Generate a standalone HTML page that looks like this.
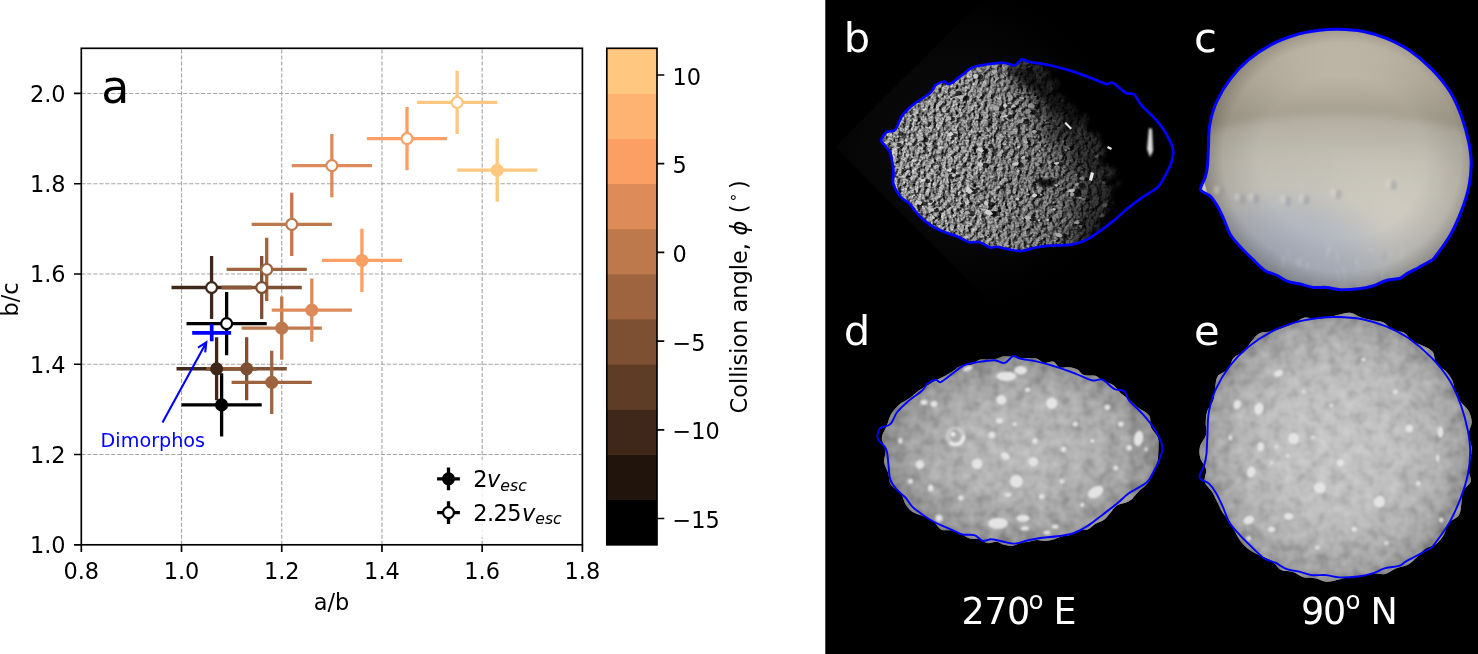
<!DOCTYPE html>
<html lang="en"><head><meta charset="utf-8"><title>Figure</title>
<style>html,body{margin:0;padding:0;background:#fff}svg{display:block}text{font-family:"DejaVu Sans","Liberation Sans",sans-serif}</style></head><body>
<svg width="1478" height="654" viewBox="0 0 1478 654">
<defs><clipPath id="cb"><path d="M881.8 138.5C882.6 136.8 884.1 133.6 886.4 132.1C888.6 130.7 892.5 132.4 895.2 129.7C897.8 126.9 899.3 119.7 902.2 115.6C905.1 111.5 908.1 108.9 912.7 105.0C917.4 101.2 926.5 96.1 930.3 92.7C934.1 89.4 933.3 86.9 935.6 85.0C937.9 83.1 942.0 81.7 944.4 81.5C946.7 81.3 946.7 85.0 949.7 84.0C952.6 82.9 958.2 77.9 962.0 75.2C965.8 72.4 967.8 69.3 972.5 67.4C977.2 65.6 984.8 64.7 990.1 63.9C995.4 63.1 1000.1 62.6 1004.2 62.9C1008.3 63.1 1011.8 65.9 1014.7 65.3C1017.6 64.7 1019.4 59.9 1021.7 59.3C1024.1 58.8 1024.1 60.8 1028.8 61.8C1033.5 62.8 1042.8 63.8 1049.9 65.3C1056.9 66.8 1064.5 69.0 1071.0 70.9C1077.4 72.9 1082.7 74.8 1088.6 76.9C1094.4 79.1 1102.0 83.0 1106.1 84.0C1110.2 84.9 1109.9 81.4 1113.2 82.9C1116.4 84.4 1122.0 90.8 1125.5 92.7C1129.0 94.7 1131.6 92.4 1134.3 94.5C1136.9 96.6 1137.8 100.9 1141.3 105.0C1144.8 109.2 1151.3 114.4 1155.4 119.1C1159.5 123.8 1163.0 128.2 1165.9 133.2C1168.8 138.2 1172.1 144.0 1172.9 149.0C1173.8 154.0 1172.9 157.8 1171.2 163.1C1169.4 168.3 1164.7 176.5 1162.4 180.6C1160.0 184.7 1160.6 184.7 1157.1 187.7C1153.6 190.6 1146.3 194.7 1141.3 198.2C1136.3 201.7 1131.9 205.0 1127.2 208.8C1122.5 212.6 1117.9 217.3 1113.2 221.1C1108.5 224.9 1103.8 228.4 1099.1 231.6C1094.4 234.9 1089.7 238.3 1085.0 240.4C1080.3 242.6 1076.8 243.8 1071.0 244.6C1065.1 245.5 1055.7 245.2 1049.9 245.7C1044.0 246.2 1040.5 246.6 1035.8 247.5C1031.1 248.3 1026.4 250.7 1021.7 251.0C1017.1 251.3 1011.8 249.9 1007.7 249.2C1003.6 248.5 1000.1 247.0 997.1 246.8C994.2 246.5 993.0 248.2 990.1 247.5C987.2 246.7 983.1 243.1 979.5 242.2C976.0 241.3 972.5 243.1 969.0 242.2C965.5 241.3 962.3 238.5 958.5 236.9C954.6 235.3 950.0 234.2 946.1 232.7C942.3 231.2 939.1 230.0 935.6 228.1C932.1 226.2 928.3 223.7 925.0 221.1C921.8 218.4 918.9 215.2 916.3 212.3C913.6 209.4 911.9 206.1 909.2 203.5C906.6 200.9 903.1 199.7 900.4 196.5C897.8 193.2 894.6 188.6 893.4 184.2C892.2 179.8 894.0 175.4 893.4 170.1C892.8 164.8 891.8 157.2 889.9 152.5C888.0 147.8 883.1 144.3 881.8 142.0C880.5 139.6 881.0 140.1 881.8 138.5Z"/></clipPath>
<clipPath id="cc"><path d="M1208.4 147.6C1208.8 140.7 1208.4 132.3 1209.8 124.6C1211.2 117.0 1213.2 109.3 1216.7 101.7C1220.1 94.1 1225.1 85.8 1230.4 78.8C1235.8 71.7 1241.9 65.2 1248.8 59.5C1255.7 53.8 1264.1 48.4 1271.7 44.4C1279.3 40.3 1287.0 37.5 1294.6 35.2C1302.3 32.9 1310.3 31.6 1317.6 30.6C1324.8 29.6 1330.5 29.1 1338.2 29.3C1345.8 29.4 1355.4 30.0 1363.4 31.5C1371.4 33.1 1378.7 35.3 1386.3 38.4C1394.0 41.6 1401.6 45.2 1409.3 50.3C1416.9 55.5 1425.3 62.6 1432.2 69.6C1439.1 76.6 1445.6 84.5 1450.5 92.5C1455.5 100.6 1458.9 109.3 1462.0 117.7C1465.0 126.2 1467.3 135.3 1468.9 143.0C1470.4 150.6 1471.2 156.3 1471.2 163.6C1471.2 170.9 1470.4 178.9 1468.9 186.5C1467.3 194.2 1465.0 201.4 1462.0 209.4C1458.9 217.5 1455.1 226.6 1450.5 234.7C1445.9 242.7 1437.9 253.2 1434.5 257.6C1431.0 262.0 1432.6 259.6 1429.9 261.3C1427.2 262.9 1422.2 265.6 1418.4 267.7C1414.6 269.7 1410.0 271.9 1407.0 273.6C1403.9 275.4 1403.5 277.1 1400.1 278.2C1396.6 279.4 1390.9 279.2 1386.3 280.5C1381.7 281.8 1377.2 284.6 1372.6 286.0C1368.0 287.4 1364.2 288.2 1358.8 288.8C1353.5 289.4 1345.8 289.9 1340.5 289.7C1335.1 289.5 1331.3 287.8 1326.7 287.4C1322.1 287.0 1317.6 288.0 1313.0 287.4C1308.4 286.8 1303.4 284.7 1299.2 283.7C1295.0 282.7 1291.6 282.9 1287.7 281.4C1283.9 280.0 1280.1 276.9 1276.3 275.0C1272.5 273.2 1268.6 273.0 1264.8 270.4C1261.0 267.9 1257.2 263.6 1253.4 259.9C1249.5 256.2 1245.7 252.6 1241.9 248.4C1238.1 244.2 1233.5 239.6 1230.4 234.7C1227.4 229.7 1225.9 223.6 1223.6 218.6C1221.3 213.7 1219.0 208.7 1216.7 204.9C1214.4 201.0 1212.5 198.2 1209.8 195.7C1207.1 193.2 1201.4 192.8 1200.6 189.7C1199.9 186.7 1204.1 181.3 1205.2 177.4C1206.4 173.4 1207.0 170.9 1207.5 165.9C1208.0 160.9 1208.0 154.4 1208.4 147.6Z"/></clipPath>
<filter id="rock" x="0" y="0" width="100%" height="100%" color-interpolation-filters="sRGB">
<feTurbulence type="fractalNoise" baseFrequency="0.2" numOctaves="4" seed="7" result="n"/>
<feColorMatrix in="n" type="matrix" values="0 0 0 0 0  0 0 0 0 0  0 0 0 0 0  0 1 0 0 0" result="h"/>
<feDiffuseLighting in="h" surfaceScale="5" diffuseConstant="0.86" lighting-color="#ffffff" result="lit"><feDistantLight azimuth="200" elevation="48"/></feDiffuseLighting>
<feTurbulence type="fractalNoise" baseFrequency="0.55" numOctaves="2" seed="21" result="n1"/>
<feColorMatrix in="n1" type="matrix" values="0 1.5 0 0 -0.25  0 1.5 0 0 -0.25  0 1.5 0 0 -0.25  0 0 0 0 1" result="g1"/>
<feComposite in="lit" in2="g1" operator="arithmetic" k1="0" k2="0.74" k3="0.42" k4="-0.08"/>
</filter>
<filter id="rag2" x="-10%" y="-10%" width="120%" height="120%">
<feTurbulence type="fractalNoise" baseFrequency="0.12" numOctaves="3" seed="14" result="t"/>
<feDisplacementMap in="SourceGraphic" in2="t" scale="70" xChannelSelector="G" yChannelSelector="R" result="d"/>
<feGaussianBlur in="d" stdDeviation="6"/>
</filter>
<filter id="rag" x="-10%" y="-10%" width="120%" height="120%">
<feTurbulence type="fractalNoise" baseFrequency="0.09" numOctaves="3" seed="4" result="t"/>
<feDisplacementMap in="SourceGraphic" in2="t" scale="26" xChannelSelector="R" yChannelSelector="G" result="d"/>
<feGaussianBlur in="d" stdDeviation="2.2"/>
</filter>
<filter id="bl8" x="-20%" y="-20%" width="140%" height="140%"><feGaussianBlur stdDeviation="8"/></filter>
<filter id="bl4" x="-20%" y="-20%" width="140%" height="140%"><feGaussianBlur stdDeviation="4"/></filter>
<filter id="bl2" x="-20%" y="-20%" width="140%" height="140%"><feGaussianBlur stdDeviation="1.6"/></filter>
<filter id="bl05" x="-5%" y="-5%" width="110%" height="110%"><feGaussianBlur stdDeviation="0.45"/></filter>
<filter id="bl1" x="-30%" y="-30%" width="160%" height="160%"><feGaussianBlur stdDeviation="0.8"/></filter>
<linearGradient id="bsh" x1="0" y1="0" x2="1" y2="0"><stop offset="0" stop-color="#fff"/><stop offset="0.3" stop-color="#ececec"/><stop offset="0.5" stop-color="#c4c4c4"/><stop offset="0.7" stop-color="#8c8c8c"/><stop offset="1" stop-color="#505050"/></linearGradient>
<radialGradient id="bglow" cx="955" cy="150" r="160" gradientUnits="userSpaceOnUse"><stop offset="0" stop-color="#0b0b0b"/><stop offset="0.55" stop-color="#070707"/><stop offset="1" stop-color="#000"/></radialGradient>
<radialGradient id="climb" cx="0.5" cy="0.5" r="0.5"><stop offset="0" stop-color="#000" stop-opacity="0"/><stop offset="0.6" stop-color="#000" stop-opacity="0.02"/><stop offset="0.85" stop-color="#1a140a" stop-opacity="0.12"/><stop offset="1" stop-color="#1a140a" stop-opacity="0.36"/></radialGradient>
<linearGradient id="cbase" x1="0" y1="20" x2="0" y2="300" gradientUnits="userSpaceOnUse"><stop offset="0" stop-color="#b3aea1"/><stop offset="0.36" stop-color="#b6b1a4"/><stop offset="0.5" stop-color="#c3c0b5"/><stop offset="0.65" stop-color="#c8c6be"/><stop offset="0.8" stop-color="#c5c5c4"/><stop offset="0.92" stop-color="#c4c8cf"/><stop offset="1" stop-color="#cdd1d9"/></linearGradient>
<radialGradient id="ctop" cx="1338" cy="647" r="620" gradientUnits="userSpaceOnUse"><stop offset="0.86" stop-color="#a8a192"/><stop offset="0.885" stop-color="#b1aa9a"/><stop offset="0.92" stop-color="#c0b8a8"/><stop offset="0.96" stop-color="#cdc5b5"/><stop offset="1" stop-color="#d6cebf"/></radialGradient>
<radialGradient id="cblue" cx="0.5" cy="0.5" r="0.5"><stop offset="0" stop-color="#aab2c6" stop-opacity="0.75"/><stop offset="0.6" stop-color="#aab2c6" stop-opacity="0.45"/><stop offset="1" stop-color="#aab2c6" stop-opacity="0"/></radialGradient>
<radialGradient id="cwarm" cx="0.5" cy="0.5" r="0.5"><stop offset="0" stop-color="#e2dccb" stop-opacity="0.4"/><stop offset="1" stop-color="#e2dbc6" stop-opacity="0"/></radialGradient>
<radialGradient id="dsh" cx="0.5" cy="0.5" r="0.5"><stop offset="0" stop-color="#b7b7b7"/><stop offset="0.45" stop-color="#b1b1b1"/><stop offset="0.75" stop-color="#a3a3a3"/><stop offset="0.92" stop-color="#949494"/><stop offset="1" stop-color="#818181"/></radialGradient>
<filter id="lump" x="-5%" y="-5%" width="110%" height="110%" color-interpolation-filters="sRGB">
<feTurbulence type="fractalNoise" baseFrequency="0.085" numOctaves="2" seed="11" result="n"/>
<feColorMatrix in="n" type="matrix" values="0 0.6 0 0 0.21  0 0.6 0 0 0.21  0 0.6 0 0 0.21  0 0 0 0 1" result="g"/>
<feComposite in="g" in2="SourceGraphic" operator="in" result="c"/>
<feBlend in="c" in2="SourceGraphic" mode="soft-light"/>
</filter>
<radialGradient id="esh" cx="0.5" cy="0.5" r="0.5"><stop offset="0" stop-color="#c3c3c3"/><stop offset="0.45" stop-color="#bebebe"/><stop offset="0.75" stop-color="#b0b0b0"/><stop offset="0.92" stop-color="#9f9f9f"/><stop offset="1" stop-color="#8a8a8a"/></radialGradient></defs>
<rect x="0" y="0" width="1478" height="654" fill="#fff"/>
<g id="plot">
<path d="M181.52 544.80V48.30M281.74 544.80V48.30M381.96 544.80V48.30M482.18 544.80V48.30M81.30 454.53H582.40M81.30 364.25H582.40M81.30 273.98H582.40M81.30 183.71H582.40M81.30 93.44H582.40" fill="none" stroke="#a6a6a6" stroke-width="1.13" stroke-dasharray="4.18 1.81"/>
<path d="M181.52 404.88H261.70M221.61 436.47V373.28" stroke="rgb(0,0,0)" stroke-width="3.30" fill="none"/>
<path d="M176.51 368.77H256.69M216.60 400.36V337.17" stroke="rgb(63,40,25)" stroke-width="3.30" fill="none"/>
<path d="M206.57 368.77H286.75M246.66 400.36V337.17" stroke="rgb(126,80,51)" stroke-width="3.30" fill="none"/>
<path d="M231.63 382.31H311.81M271.72 413.90V350.71" stroke="rgb(158,100,63)" stroke-width="3.30" fill="none"/>
<path d="M241.65 328.15H321.83M281.74 359.74V296.55" stroke="rgb(189,120,76)" stroke-width="3.30" fill="none"/>
<path d="M271.72 310.09H351.89M311.81 341.69V278.50" stroke="rgb(221,139,89)" stroke-width="3.30" fill="none"/>
<path d="M321.83 260.44H402.00M361.92 292.04V228.85" stroke="rgb(252,159,101)" stroke-width="3.30" fill="none"/>
<path d="M457.12 170.17H537.30M497.21 201.76V138.57" stroke="rgb(255,199,127)" stroke-width="3.30" fill="none"/>
<path d="M186.53 323.63H266.71M226.62 355.23V292.04" stroke="rgb(0,0,0)" stroke-width="3.30" fill="none"/>
<path d="M171.50 287.52H251.67M211.59 319.12V255.93" stroke="rgb(63,40,25)" stroke-width="3.30" fill="none"/>
<path d="M221.61 287.52H301.78M261.70 319.12V255.93" stroke="rgb(126,80,51)" stroke-width="3.30" fill="none"/>
<path d="M226.62 269.47H306.79M266.71 301.06V237.87" stroke="rgb(158,100,63)" stroke-width="3.30" fill="none"/>
<path d="M251.67 224.33H331.85M291.76 255.93V192.74" stroke="rgb(189,120,76)" stroke-width="3.30" fill="none"/>
<path d="M291.76 165.65H371.94M331.85 197.25V134.06" stroke="rgb(221,139,89)" stroke-width="3.30" fill="none"/>
<path d="M366.93 138.57H447.10M407.01 170.17V106.98" stroke="rgb(252,159,101)" stroke-width="3.30" fill="none"/>
<path d="M417.04 102.46H497.21M457.12 134.06V70.87" stroke="rgb(255,199,127)" stroke-width="3.30" fill="none"/>
<path d="M206.57 368.77H256.68" stroke="rgb(140,89,56)" stroke-width="3.30"/>
<path d="M221.61 287.52H251.67" stroke="rgb(140,89,56)" stroke-width="3.30"/>
<path d="M192.2 332.8H231.1M211.7 324V341.2" stroke="#0000ff" stroke-width="3.7" fill="none"/>
<circle cx="221.61" cy="404.88" r="5.45" fill="rgb(0,0,0)" stroke="rgb(0,0,0)" stroke-width="2.2"/>
<circle cx="216.60" cy="368.77" r="5.45" fill="rgb(63,40,25)" stroke="rgb(63,40,25)" stroke-width="2.2"/>
<circle cx="246.66" cy="368.77" r="5.45" fill="rgb(126,80,51)" stroke="rgb(126,80,51)" stroke-width="2.2"/>
<circle cx="271.72" cy="382.31" r="5.45" fill="rgb(158,100,63)" stroke="rgb(158,100,63)" stroke-width="2.2"/>
<circle cx="281.74" cy="328.15" r="5.45" fill="rgb(189,120,76)" stroke="rgb(189,120,76)" stroke-width="2.2"/>
<circle cx="311.81" cy="310.09" r="5.45" fill="rgb(221,139,89)" stroke="rgb(221,139,89)" stroke-width="2.2"/>
<circle cx="361.92" cy="260.44" r="5.45" fill="rgb(252,159,101)" stroke="rgb(252,159,101)" stroke-width="2.2"/>
<circle cx="497.21" cy="170.17" r="5.45" fill="rgb(255,199,127)" stroke="rgb(255,199,127)" stroke-width="2.2"/>
<circle cx="226.62" cy="323.63" r="5.45" fill="#fff" stroke="rgb(0,0,0)" stroke-width="2.2"/>
<circle cx="211.59" cy="287.52" r="5.45" fill="#fff" stroke="rgb(63,40,25)" stroke-width="2.2"/>
<circle cx="261.70" cy="287.52" r="5.45" fill="#fff" stroke="rgb(126,80,51)" stroke-width="2.2"/>
<circle cx="266.71" cy="269.47" r="5.45" fill="#fff" stroke="rgb(158,100,63)" stroke-width="2.2"/>
<circle cx="291.76" cy="224.33" r="5.45" fill="#fff" stroke="rgb(189,120,76)" stroke-width="2.2"/>
<circle cx="331.85" cy="165.65" r="5.45" fill="#fff" stroke="rgb(221,139,89)" stroke-width="2.2"/>
<circle cx="407.01" cy="138.57" r="5.45" fill="#fff" stroke="rgb(252,159,101)" stroke-width="2.2"/>
<circle cx="457.12" cy="102.46" r="5.45" fill="#fff" stroke="rgb(255,199,127)" stroke-width="2.2"/>
<path d="M162.5 422.4L206.3 342.4M198.0 347.6L206.3 342.4L205.2 352.4" stroke="#0000ff" stroke-width="2.1" fill="none" stroke-linejoin="miter"/>
<text x="100.6" y="446.9" font-size="19.2" fill="#0000ff">Dimorphos</text>
<rect x="428" y="459.6" width="147" height="78" rx="4" fill="#fff" fill-opacity="0.8"/>
<path d="M437.1 478.8H459.9M448.5 467.4V490.2" stroke="#000" stroke-width="3.30"/>
<circle cx="448.5" cy="478.8" r="5.45" fill="#000" stroke="#000" stroke-width="2.2"/>
<path d="M437.1 512.6H459.9M448.5 501.2V524.0" stroke="#000" stroke-width="3.30"/>
<circle cx="448.5" cy="512.6" r="5.45" fill="#fff" stroke="#000" stroke-width="2.2"/>
<text x="473.2" y="486.9" font-size="22.45">2<tspan font-style="italic" dx="-0.4">v</tspan><tspan font-style="italic" font-size="15.7" dy="3.6">esc</tspan></text>
<text x="473.2" y="520.6" font-size="22.45"><tspan letter-spacing="-0.5">2.25</tspan><tspan font-style="italic" dx="0.8">v</tspan><tspan font-style="italic" font-size="15.7" dy="3.6">esc</tspan></text>
<rect x="81.30" y="48.30" width="501.10" height="496.50" fill="none" stroke="#000" stroke-width="1.67"/>
<path d="M81.30 544.80v7.3M181.52 544.80v7.3M281.74 544.80v7.3M381.96 544.80v7.3M482.18 544.80v7.3M582.40 544.80v7.3M81.30 544.80h-7.3M81.30 454.53h-7.3M81.30 364.25h-7.3M81.30 273.98h-7.3M81.30 183.71h-7.3M81.30 93.44h-7.3" stroke="#000" stroke-width="1.67" fill="none"/>
<text x="81.30" y="578.7" font-size="22.45" text-anchor="middle">0.8</text>
<text x="181.52" y="578.7" font-size="22.45" text-anchor="middle">1.0</text>
<text x="281.74" y="578.7" font-size="22.45" text-anchor="middle">1.2</text>
<text x="381.96" y="578.7" font-size="22.45" text-anchor="middle">1.4</text>
<text x="482.18" y="578.7" font-size="22.45" text-anchor="middle">1.6</text>
<text x="582.40" y="578.7" font-size="22.45" text-anchor="middle">1.8</text>
<text x="65.6" y="553.20" font-size="22.45" text-anchor="end">1.0</text>
<text x="65.6" y="462.93" font-size="22.45" text-anchor="end">1.2</text>
<text x="65.6" y="372.65" font-size="22.45" text-anchor="end">1.4</text>
<text x="65.6" y="282.38" font-size="22.45" text-anchor="end">1.6</text>
<text x="65.6" y="192.11" font-size="22.45" text-anchor="end">1.8</text>
<text x="65.6" y="101.84" font-size="22.45" text-anchor="end">2.0</text>
<text x="331.6" y="609.8" font-size="22.45" text-anchor="middle">a/b</text>
<text transform="translate(18.1 299.5) rotate(-90)" font-size="22.45" text-anchor="middle">b/c</text>
<text x="101.2" y="102.6" font-size="45.83">a</text>
<rect x="606.80" y="499.36" width="50.20" height="45.74" fill="rgb(0,0,0)"/>
<rect x="606.80" y="454.23" width="50.20" height="45.74" fill="rgb(32,20,13)"/>
<rect x="606.80" y="409.09" width="50.20" height="45.74" fill="rgb(63,40,25)"/>
<rect x="606.80" y="363.95" width="50.20" height="45.74" fill="rgb(95,60,38)"/>
<rect x="606.80" y="318.82" width="50.20" height="45.74" fill="rgb(126,80,51)"/>
<rect x="606.80" y="273.68" width="50.20" height="45.74" fill="rgb(158,100,63)"/>
<rect x="606.80" y="228.55" width="50.20" height="45.74" fill="rgb(189,120,76)"/>
<rect x="606.80" y="183.41" width="50.20" height="45.74" fill="rgb(221,139,89)"/>
<rect x="606.80" y="138.27" width="50.20" height="45.74" fill="rgb(252,159,101)"/>
<rect x="606.80" y="93.14" width="50.20" height="45.74" fill="rgb(255,179,114)"/>
<rect x="606.80" y="48.00" width="50.20" height="45.74" fill="rgb(255,199,127)"/>
<rect x="606.80" y="48.30" width="50.20" height="496.50" fill="none" stroke="#000" stroke-width="1.67"/>
<path d="M657.00 75.00h7.3M657.00 163.70h7.3M657.00 252.40h7.3M657.00 341.10h7.3M657.00 429.80h7.3M657.00 518.50h7.3" stroke="#000" stroke-width="1.67"/>
<text x="672.5" y="84.60" font-size="22.45">10</text>
<text x="672.5" y="173.30" font-size="22.45">5</text>
<text x="672.5" y="262.00" font-size="22.45">0</text>
<text x="672.5" y="350.70" font-size="22.45">−5</text>
<text x="672.5" y="439.40" font-size="22.45">−10</text>
<text x="672.5" y="528.10" font-size="22.45">−15</text>
<text transform="translate(746.5 413.5) rotate(-90)" font-size="22.45" xml:space="preserve">Collision angle, <tspan font-style="italic" dx="0.5">ϕ</tspan><tspan dx="0.15"> (</tspan><tspan font-size="15.7" dy="-8.3" dx="2.4">∘</tspan><tspan dy="8.3" dx="3.4">)</tspan></text>
</g>
<g id="panel">
<rect x="825.3" y="0" width="652.7" height="654" fill="#000"/>
<g id="body-b">
<path d="M835 147L1010 -28L1185 147L1010 322Z" fill="url(#bglow)"/>
<g clip-path="url(#cb)">
<rect x="870" y="50" width="320" height="210" fill="#fff" filter="url(#rock)"/>
<rect x="870" y="50" width="320" height="210" fill="url(#bsh)" style="mix-blend-mode:multiply"/>
<g filter="url(#bl05)"><ellipse cx="1031.6" cy="67.2" rx="2.0" ry="1.4" fill="#000" fill-opacity="0.7"/><ellipse cx="936.4" cy="173.1" rx="1.3" ry="1.0" fill="#000" fill-opacity="0.7"/><ellipse cx="1052.5" cy="163.5" rx="2.4" ry="1.8" fill="#000" fill-opacity="0.7"/><ellipse cx="973.2" cy="147.8" rx="2.0" ry="1.4" fill="#000" fill-opacity="0.7"/><ellipse cx="1040.8" cy="220.8" rx="1.3" ry="1.0" fill="#000" fill-opacity="0.7"/><ellipse cx="921.9" cy="89.2" rx="3.5" ry="2.6" fill="#000" fill-opacity="0.7"/><ellipse cx="1065.0" cy="141.7" rx="1.3" ry="1.0" fill="#000" fill-opacity="0.7"/><ellipse cx="913.4" cy="144.4" rx="2.4" ry="1.8" fill="#000" fill-opacity="0.7"/><ellipse cx="1060.5" cy="164.2" rx="2.9" ry="2.1" fill="#000" fill-opacity="0.7"/><ellipse cx="1072.5" cy="246.6" rx="2.9" ry="2.1" fill="#000" fill-opacity="0.7"/><ellipse cx="977.5" cy="188.8" rx="2.0" ry="1.4" fill="#000" fill-opacity="0.7"/><ellipse cx="1080.7" cy="75.8" rx="1.7" ry="1.2" fill="#000" fill-opacity="0.7"/><ellipse cx="985.1" cy="150.8" rx="3.5" ry="2.6" fill="#000" fill-opacity="0.7"/><ellipse cx="944.5" cy="236.2" rx="2.4" ry="1.8" fill="#000" fill-opacity="0.7"/><ellipse cx="1089.8" cy="93.3" rx="1.3" ry="1.0" fill="#000" fill-opacity="0.7"/><ellipse cx="1020.1" cy="164.9" rx="3.5" ry="2.6" fill="#000" fill-opacity="0.7"/><ellipse cx="914.2" cy="229.8" rx="1.7" ry="1.2" fill="#000" fill-opacity="0.7"/><ellipse cx="989.7" cy="237.0" rx="1.3" ry="1.0" fill="#000" fill-opacity="0.7"/><ellipse cx="1076.5" cy="195.0" rx="2.9" ry="2.1" fill="#000" fill-opacity="0.7"/><ellipse cx="951.1" cy="176.7" rx="3.5" ry="2.6" fill="#000" fill-opacity="0.7"/><ellipse cx="1033.2" cy="112.2" rx="3.5" ry="2.6" fill="#000" fill-opacity="0.7"/><ellipse cx="956.2" cy="231.4" rx="1.3" ry="1.0" fill="#000" fill-opacity="0.7"/><ellipse cx="1088.1" cy="67.6" rx="3.5" ry="2.6" fill="#000" fill-opacity="0.7"/><ellipse cx="1071.4" cy="149.1" rx="2.0" ry="1.4" fill="#000" fill-opacity="0.7"/><ellipse cx="1099.0" cy="84.2" rx="2.0" ry="1.4" fill="#000" fill-opacity="0.7"/><ellipse cx="898.9" cy="144.8" rx="2.9" ry="2.1" fill="#000" fill-opacity="0.7"/><ellipse cx="1001.8" cy="187.9" rx="2.0" ry="1.4" fill="#000" fill-opacity="0.7"/><ellipse cx="936.2" cy="210.5" rx="2.9" ry="2.1" fill="#000" fill-opacity="0.7"/><ellipse cx="908.3" cy="241.4" rx="1.7" ry="1.2" fill="#000" fill-opacity="0.7"/><ellipse cx="1001.0" cy="108.8" rx="3.5" ry="2.6" fill="#000" fill-opacity="0.7"/><ellipse cx="992.5" cy="213.6" rx="3.5" ry="2.6" fill="#000" fill-opacity="0.7"/><ellipse cx="991.1" cy="204.3" rx="3.5" ry="2.6" fill="#000" fill-opacity="0.7"/><ellipse cx="1042.9" cy="195.2" rx="1.3" ry="1.0" fill="#000" fill-opacity="0.7"/><ellipse cx="889.6" cy="128.8" rx="2.4" ry="1.8" fill="#000" fill-opacity="0.7"/><ellipse cx="1050.2" cy="220.5" rx="1.7" ry="1.2" fill="#000" fill-opacity="0.7"/><ellipse cx="961.8" cy="205.8" rx="2.4" ry="1.8" fill="#000" fill-opacity="0.7"/><ellipse cx="1057.0" cy="241.0" rx="1.7" ry="1.2" fill="#000" fill-opacity="0.7"/><ellipse cx="1062.7" cy="93.3" rx="2.0" ry="1.4" fill="#000" fill-opacity="0.7"/><ellipse cx="1078.1" cy="175.2" rx="1.3" ry="1.0" fill="#000" fill-opacity="0.7"/><ellipse cx="1032.8" cy="218.8" rx="3.5" ry="2.6" fill="#000" fill-opacity="0.7"/><ellipse cx="1075.2" cy="79.0" rx="2.4" ry="1.8" fill="#000" fill-opacity="0.7"/><ellipse cx="1012.3" cy="159.6" rx="1.7" ry="1.2" fill="#000" fill-opacity="0.7"/><ellipse cx="1038.3" cy="132.2" rx="2.9" ry="2.1" fill="#000" fill-opacity="0.7"/><ellipse cx="930.8" cy="201.4" rx="2.0" ry="1.4" fill="#000" fill-opacity="0.7"/><ellipse cx="1011.8" cy="193.6" rx="1.7" ry="1.2" fill="#000" fill-opacity="0.7"/><ellipse cx="980.0" cy="76.9" rx="3.5" ry="2.6" fill="#000" fill-opacity="0.7"/><ellipse cx="990.3" cy="146.0" rx="2.9" ry="2.1" fill="#000" fill-opacity="0.7"/><ellipse cx="925.0" cy="139.8" rx="3.5" ry="2.6" fill="#000" fill-opacity="0.7"/><ellipse cx="985.5" cy="165.3" rx="3.5" ry="2.6" fill="#000" fill-opacity="0.7"/><ellipse cx="1100.4" cy="156.7" rx="2.4" ry="1.8" fill="#000" fill-opacity="0.7"/><ellipse cx="1016.9" cy="205.9" rx="1.7" ry="1.2" fill="#000" fill-opacity="0.7"/><ellipse cx="961.9" cy="193.0" rx="2.0" ry="1.4" fill="#000" fill-opacity="0.7"/><ellipse cx="980.7" cy="97.8" rx="2.0" ry="1.4" fill="#000" fill-opacity="0.7"/><ellipse cx="1046.5" cy="120.8" rx="1.3" ry="1.0" fill="#000" fill-opacity="0.7"/><ellipse cx="1109.5" cy="108.6" rx="2.9" ry="2.1" fill="#000" fill-opacity="0.7"/><ellipse cx="952.5" cy="118.9" rx="2.9" ry="2.1" fill="#000" fill-opacity="0.7"/><ellipse cx="1017.0" cy="106.6" rx="2.4" ry="1.8" fill="#000" fill-opacity="0.7"/><ellipse cx="1084.0" cy="227.0" rx="2.4" ry="1.8" fill="#000" fill-opacity="0.7"/><ellipse cx="1080.5" cy="223.0" rx="2.9" ry="2.1" fill="#000" fill-opacity="0.7"/><ellipse cx="1109.9" cy="205.9" rx="3.5" ry="2.6" fill="#000" fill-opacity="0.7"/><ellipse cx="926.5" cy="77.5" rx="2.4" ry="1.8" fill="#000" fill-opacity="0.7"/><ellipse cx="905.5" cy="240.5" rx="2.9" ry="2.1" fill="#000" fill-opacity="0.7"/><ellipse cx="893.2" cy="218.7" rx="2.4" ry="1.8" fill="#000" fill-opacity="0.7"/><ellipse cx="937.0" cy="98.3" rx="2.0" ry="1.4" fill="#000" fill-opacity="0.7"/><ellipse cx="1093.0" cy="124.1" rx="2.4" ry="1.8" fill="#000" fill-opacity="0.7"/><ellipse cx="1067.8" cy="150.4" rx="1.3" ry="1.0" fill="#000" fill-opacity="0.7"/><ellipse cx="970.6" cy="203.4" rx="2.0" ry="1.4" fill="#000" fill-opacity="0.7"/><ellipse cx="1092.9" cy="119.5" rx="2.4" ry="1.8" fill="#000" fill-opacity="0.7"/><ellipse cx="1020.5" cy="199.3" rx="2.4" ry="1.8" fill="#000" fill-opacity="0.7"/><ellipse cx="1010.2" cy="246.4" rx="2.0" ry="1.4" fill="#000" fill-opacity="0.7"/><ellipse cx="1066.0" cy="101.4" rx="2.9" ry="2.1" fill="#000" fill-opacity="0.7"/><ellipse cx="912.0" cy="225.3" rx="1.7" ry="1.2" fill="#000" fill-opacity="0.7"/><ellipse cx="1020.8" cy="147.4" rx="1.7" ry="1.2" fill="#000" fill-opacity="0.7"/><ellipse cx="1047.1" cy="145.7" rx="1.3" ry="1.0" fill="#000" fill-opacity="0.7"/><ellipse cx="1080.8" cy="185.2" rx="2.9" ry="2.1" fill="#000" fill-opacity="0.7"/><ellipse cx="1041.3" cy="151.5" rx="1.3" ry="1.0" fill="#000" fill-opacity="0.7"/><ellipse cx="1083.0" cy="198.1" rx="2.0" ry="1.4" fill="#000" fill-opacity="0.7"/><ellipse cx="1079.1" cy="246.0" rx="2.9" ry="2.1" fill="#000" fill-opacity="0.7"/><ellipse cx="1014.7" cy="137.8" rx="1.7" ry="1.2" fill="#000" fill-opacity="0.7"/><ellipse cx="921.8" cy="204.2" rx="1.3" ry="1.0" fill="#000" fill-opacity="0.7"/><ellipse cx="1005.8" cy="120.4" rx="1.7" ry="1.2" fill="#000" fill-opacity="0.7"/><ellipse cx="1008.7" cy="106.0" rx="2.9" ry="2.1" fill="#000" fill-opacity="0.7"/><ellipse cx="952.8" cy="138.7" rx="2.0" ry="1.4" fill="#000" fill-opacity="0.7"/><ellipse cx="936.7" cy="208.8" rx="1.3" ry="1.0" fill="#000" fill-opacity="0.7"/><ellipse cx="1058.3" cy="185.7" rx="1.7" ry="1.2" fill="#000" fill-opacity="0.7"/><ellipse cx="922.3" cy="75.5" rx="2.4" ry="1.8" fill="#000" fill-opacity="0.7"/><ellipse cx="1026.7" cy="158.0" rx="2.4" ry="1.8" fill="#000" fill-opacity="0.7"/><ellipse cx="1110.8" cy="78.8" rx="3.5" ry="2.6" fill="#000" fill-opacity="0.7"/><ellipse cx="904.6" cy="80.7" rx="3.5" ry="2.6" fill="#000" fill-opacity="0.7"/><ellipse cx="915.8" cy="195.6" rx="1.3" ry="1.0" fill="#000" fill-opacity="0.7"/><ellipse cx="891.4" cy="120.5" rx="1.7" ry="1.2" fill="#000" fill-opacity="0.7"/><ellipse cx="1086.1" cy="179.0" rx="2.9" ry="2.1" fill="#000" fill-opacity="0.7"/><ellipse cx="1056.5" cy="209.8" rx="1.7" ry="1.2" fill="#000" fill-opacity="0.7"/><ellipse cx="1106.3" cy="216.4" rx="2.9" ry="2.1" fill="#000" fill-opacity="0.7"/><ellipse cx="920.4" cy="144.7" rx="1.7" ry="1.2" fill="#000" fill-opacity="0.7"/><ellipse cx="1065.8" cy="88.4" rx="2.0" ry="1.4" fill="#000" fill-opacity="0.7"/><ellipse cx="912.7" cy="116.7" rx="2.0" ry="1.4" fill="#000" fill-opacity="0.7"/><ellipse cx="983.8" cy="178.0" rx="1.7" ry="1.2" fill="#000" fill-opacity="0.7"/><ellipse cx="1030.7" cy="247.0" rx="2.0" ry="1.4" fill="#000" fill-opacity="0.7"/><ellipse cx="1076.6" cy="191.7" rx="3.5" ry="2.6" fill="#000" fill-opacity="0.7"/><ellipse cx="1110.3" cy="164.6" rx="2.0" ry="1.4" fill="#000" fill-opacity="0.7"/><ellipse cx="966.1" cy="98.1" rx="3.5" ry="2.6" fill="#000" fill-opacity="0.7"/><ellipse cx="957.3" cy="176.0" rx="2.4" ry="1.8" fill="#000" fill-opacity="0.7"/><ellipse cx="971.5" cy="213.6" rx="3.5" ry="2.6" fill="#000" fill-opacity="0.7"/><ellipse cx="1040.5" cy="240.9" rx="2.0" ry="1.4" fill="#000" fill-opacity="0.7"/><ellipse cx="947.2" cy="111.6" rx="2.4" ry="1.8" fill="#000" fill-opacity="0.7"/><ellipse cx="1039.2" cy="196.2" rx="2.9" ry="2.1" fill="#000" fill-opacity="0.7"/><ellipse cx="893.6" cy="166.7" rx="2.0" ry="1.4" fill="#000" fill-opacity="0.7"/><ellipse cx="1107.1" cy="183.4" rx="2.4" ry="1.8" fill="#000" fill-opacity="0.7"/><ellipse cx="958.2" cy="93.4" rx="3.5" ry="2.6" fill="#000" fill-opacity="0.7"/><ellipse cx="1020.4" cy="171.6" rx="1.7" ry="1.2" fill="#000" fill-opacity="0.7"/><ellipse cx="1028.9" cy="68.7" rx="3.5" ry="2.6" fill="#000" fill-opacity="0.7"/><ellipse cx="1026.3" cy="121.7" rx="3.5" ry="2.6" fill="#000" fill-opacity="0.7"/><ellipse cx="954.2" cy="135.0" rx="2.9" ry="2.1" fill="#000" fill-opacity="0.7"/><ellipse cx="894.1" cy="240.5" rx="2.9" ry="2.1" fill="#000" fill-opacity="0.7"/><ellipse cx="1086.9" cy="199.4" rx="2.4" ry="1.8" fill="#000" fill-opacity="0.7"/><ellipse cx="916.6" cy="80.7" rx="2.0" ry="1.4" fill="#000" fill-opacity="0.7"/><ellipse cx="920.8" cy="230.4" rx="1.7" ry="1.2" fill="#000" fill-opacity="0.7"/><ellipse cx="971.2" cy="189.3" rx="2.4" ry="1.8" fill="#000" fill-opacity="0.7"/><ellipse cx="927.3" cy="181.0" rx="2.9" ry="2.1" fill="#000" fill-opacity="0.7"/><ellipse cx="1064.2" cy="236.0" rx="3.5" ry="2.6" fill="#000" fill-opacity="0.7"/><ellipse cx="1024.5" cy="98.6" rx="1.7" ry="1.2" fill="#000" fill-opacity="0.7"/><ellipse cx="953.7" cy="170.6" rx="2.9" ry="2.1" fill="#000" fill-opacity="0.7"/><ellipse cx="935.8" cy="218.2" rx="2.0" ry="1.4" fill="#000" fill-opacity="0.7"/><ellipse cx="909.4" cy="207.3" rx="1.3" ry="1.0" fill="#000" fill-opacity="0.7"/><ellipse cx="1036.6" cy="106.6" rx="3.5" ry="2.6" fill="#000" fill-opacity="0.7"/><ellipse cx="1086.2" cy="64.5" rx="2.9" ry="2.1" fill="#000" fill-opacity="0.7"/><ellipse cx="924.3" cy="148.8" rx="2.0" ry="1.4" fill="#000" fill-opacity="0.7"/><ellipse cx="1037.8" cy="97.2" rx="1.7" ry="1.2" fill="#000" fill-opacity="0.7"/><ellipse cx="901.7" cy="84.8" rx="2.0" ry="1.4" fill="#000" fill-opacity="0.7"/><ellipse cx="923.4" cy="203.4" rx="2.9" ry="2.1" fill="#000" fill-opacity="0.7"/><ellipse cx="904.4" cy="168.4" rx="1.3" ry="1.0" fill="#000" fill-opacity="0.7"/><ellipse cx="1070.9" cy="148.0" rx="2.9" ry="2.1" fill="#000" fill-opacity="0.7"/><ellipse cx="1008.6" cy="73.7" rx="1.3" ry="1.0" fill="#000" fill-opacity="0.7"/><ellipse cx="974.3" cy="191.3" rx="3.5" ry="2.6" fill="#000" fill-opacity="0.7"/><ellipse cx="1040.4" cy="165.1" rx="2.9" ry="2.1" fill="#000" fill-opacity="0.7"/><ellipse cx="943.0" cy="75.4" rx="2.9" ry="2.1" fill="#000" fill-opacity="0.7"/><ellipse cx="941.6" cy="235.1" rx="2.9" ry="2.1" fill="#000" fill-opacity="0.7"/><ellipse cx="1029.1" cy="143.0" rx="2.4" ry="1.8" fill="#000" fill-opacity="0.7"/><ellipse cx="956.0" cy="195.7" rx="2.4" ry="1.8" fill="#000" fill-opacity="0.7"/><ellipse cx="900.5" cy="133.7" rx="2.9" ry="2.1" fill="#000" fill-opacity="0.7"/><ellipse cx="1104.8" cy="84.7" rx="2.4" ry="1.8" fill="#000" fill-opacity="0.7"/><ellipse cx="994.7" cy="213.9" rx="3.5" ry="2.6" fill="#000" fill-opacity="0.7"/><ellipse cx="953.7" cy="99.3" rx="1.7" ry="1.2" fill="#000" fill-opacity="0.7"/><ellipse cx="926.4" cy="198.1" rx="2.4" ry="1.8" fill="#000" fill-opacity="0.7"/><ellipse cx="902.5" cy="90.8" rx="1.7" ry="1.2" fill="#000" fill-opacity="0.7"/><ellipse cx="1009.4" cy="116.7" rx="2.9" ry="2.1" fill="#000" fill-opacity="0.7"/><ellipse cx="906.1" cy="243.0" rx="2.4" ry="1.8" fill="#000" fill-opacity="0.7"/><ellipse cx="1030.1" cy="194.5" rx="1.3" ry="1.0" fill="#000" fill-opacity="0.7"/><ellipse cx="950.8" cy="236.7" rx="3.5" ry="2.6" fill="#000" fill-opacity="0.7"/><path d="M1030.1 67.2L1027.7 67.9L1027.6 66.5L1028.2 65.7L1030.7 66.1Z" fill="rgb(203,203,203)"/><path d="M933.9 173.5L933.6 172.5L934.9 172.1L935.7 172.6L935.2 173.4Z" fill="rgb(155,155,155)"/><path d="M1051.7 163.0L1048.8 164.3L1047.8 163.5L1047.6 161.2L1051.4 161.4Z" fill="rgb(162,162,162)"/><path d="M972.5 147.9L969.8 148.7L968.6 147.8L969.9 146.2L971.7 146.4Z" fill="rgb(178,178,178)"/><path d="M1040.1 220.8L1038.8 221.2L1037.5 220.1L1038.6 219.5L1040.4 219.8Z" fill="rgb(208,208,208)"/><path d="M917.0 90.8L913.9 88.0L914.5 85.6L919.0 87.0L919.6 88.7Z" fill="rgb(170,170,170)"/><path d="M1063.6 142.2L1062.3 142.1L1062.3 140.6L1063.3 140.2L1064.7 141.5Z" fill="rgb(193,193,193)"/><path d="M912.8 144.0L910.2 145.7L908.7 144.5L907.9 142.4L910.7 142.5Z" fill="rgb(197,197,197)"/><path d="M1053.8 163.8L1054.7 162.2L1059.4 162.1L1058.8 163.8L1056.4 164.8Z" fill="rgb(212,212,212)"/><path d="M1067.0 247.5L1066.6 245.0L1069.7 244.1L1071.4 245.3L1069.2 247.4Z" fill="rgb(189,189,189)"/><path d="M975.0 189.3L973.4 189.0L973.7 187.5L975.1 187.3L976.3 188.5Z" fill="rgb(154,154,154)"/><path d="M1079.5 76.2L1077.1 76.4L1077.1 75.0L1078.3 74.2L1079.9 74.6Z" fill="rgb(195,195,195)"/><path d="M984.0 150.5L981.9 152.4L977.8 150.3L977.4 148.4L981.0 147.9Z" fill="rgb(209,209,209)"/><path d="M939.6 236.0L939.4 234.4L941.3 234.3L943.1 235.8L942.0 237.1Z" fill="rgb(201,201,201)"/><path d="M1086.5 93.2L1087.6 92.1L1089.6 92.5L1089.3 93.6L1088.0 93.7Z" fill="rgb(157,157,157)"/><path d="M1017.9 165.5L1012.5 165.4L1011.9 163.7L1015.9 162.2L1019.0 162.4Z" fill="rgb(201,201,201)"/><path d="M912.0 230.2L910.3 229.3L911.3 228.5L913.2 228.8L913.1 229.7Z" fill="rgb(188,188,188)"/><path d="M989.2 236.8L988.5 237.5L987.1 237.0L987.1 236.3L988.1 235.9Z" fill="rgb(206,206,206)"/><path d="M1069.8 194.0L1071.8 192.3L1074.5 193.7L1074.2 195.5L1071.0 196.3Z" fill="rgb(169,169,169)"/><path d="M947.9 178.5L944.3 177.2L944.4 174.6L947.2 172.8L949.0 174.8Z" fill="rgb(166,166,166)"/><path d="M1028.6 113.8L1025.0 113.4L1026.7 109.8L1028.9 109.0L1031.6 111.6Z" fill="rgb(155,155,155)"/><path d="M953.4 231.4L953.2 230.3L955.3 230.4L955.3 231.3L954.0 232.1Z" fill="rgb(172,172,172)"/><path d="M1080.1 66.8L1081.6 64.1L1084.7 65.0L1086.1 67.8L1084.0 69.0Z" fill="rgb(175,175,175)"/><path d="M1067.2 148.9L1067.5 147.6L1069.1 147.6L1070.4 148.8L1069.3 150.0Z" fill="rgb(192,192,192)"/><path d="M1097.4 84.5L1096.3 85.0L1094.6 83.6L1095.7 82.4L1097.8 82.7Z" fill="rgb(182,182,182)"/><path d="M891.8 144.5L893.8 141.9L896.2 142.8L897.2 144.8L895.1 146.4Z" fill="rgb(188,188,188)"/><path d="M999.7 188.3L997.1 188.5L997.3 186.2L999.7 186.3L1000.4 187.4Z" fill="rgb(186,186,186)"/><path d="M931.1 211.4L929.5 209.7L932.6 207.4L933.9 208.8L934.4 211.3Z" fill="rgb(192,192,192)"/><path d="M905.5 241.8L904.7 241.0L905.8 239.6L907.2 240.3L906.8 241.7Z" fill="rgb(199,199,199)"/><path d="M993.1 109.9L992.6 106.5L995.4 105.0L999.5 107.3L998.9 110.4Z" fill="rgb(165,165,165)"/><path d="M987.3 214.8L984.4 212.8L986.2 209.8L990.5 210.2L990.2 213.4Z" fill="rgb(210,210,210)"/><path d="M988.0 205.4L985.0 205.5L983.6 202.6L985.5 200.3L988.4 202.2Z" fill="rgb(199,199,199)"/><path d="M1041.6 195.6L1040.1 195.6L1039.9 194.2L1041.7 194.3L1042.4 195.1Z" fill="rgb(211,211,211)"/><path d="M884.1 128.4L884.9 126.7L887.3 127.0L888.6 128.1L887.2 129.5Z" fill="rgb(201,201,201)"/><path d="M1045.9 220.1L1047.4 218.8L1048.9 219.1L1048.8 220.7L1047.8 221.0Z" fill="rgb(208,208,208)"/><path d="M959.5 206.6L956.9 206.3L957.0 204.7L958.9 203.8L961.0 203.8Z" fill="rgb(155,155,155)"/><path d="M1053.5 240.9L1053.8 240.0L1055.7 239.7L1056.2 240.5L1055.0 242.0Z" fill="rgb(164,164,164)"/><path d="M1061.7 92.9L1059.7 94.6L1057.9 93.3L1058.3 91.8L1061.0 92.0Z" fill="rgb(188,188,188)"/><path d="M1075.6 175.2L1075.2 174.3L1076.4 173.9L1077.5 174.6L1076.7 175.7Z" fill="rgb(196,196,196)"/><path d="M1031.4 218.5L1027.1 220.3L1023.9 217.5L1026.1 215.2L1030.3 216.4Z" fill="rgb(181,181,181)"/><path d="M1073.8 79.5L1071.3 79.4L1070.2 77.8L1070.9 76.4L1074.4 77.1Z" fill="rgb(185,185,185)"/><path d="M1011.5 159.6L1009.9 160.4L1008.5 159.4L1009.5 158.4L1010.8 157.9Z" fill="rgb(189,189,189)"/><path d="M1034.2 133.7L1031.4 132.1L1032.9 130.1L1035.5 130.0L1037.2 131.7Z" fill="rgb(173,173,173)"/><path d="M926.4 201.6L926.7 200.6L927.9 199.7L929.3 200.5L928.9 201.9Z" fill="rgb(156,156,156)"/><path d="M1008.8 193.8L1008.1 193.3L1009.2 192.1L1010.8 192.9L1010.2 193.8Z" fill="rgb(158,158,158)"/><path d="M973.6 78.7L973.0 75.0L974.5 73.4L978.5 74.9L977.5 78.3Z" fill="rgb(198,198,198)"/><path d="M983.4 145.6L985.5 143.0L988.5 144.6L989.2 146.1L986.2 146.8Z" fill="rgb(159,159,159)"/><path d="M919.7 140.8L916.3 138.5L918.8 136.2L924.0 137.7L923.2 140.5Z" fill="rgb(175,175,175)"/><path d="M983.1 165.0L981.1 167.3L976.5 164.7L979.9 162.1L982.7 162.8Z" fill="rgb(201,201,201)"/><path d="M1097.5 158.2L1094.7 156.7L1095.4 155.5L1098.6 154.3L1098.7 156.3Z" fill="rgb(184,184,184)"/><path d="M1014.7 206.9L1013.2 206.1L1013.7 204.5L1015.1 204.5L1016.4 205.6Z" fill="rgb(170,170,170)"/><path d="M958.2 193.9L957.8 192.5L958.8 191.4L961.5 192.0L959.9 193.2Z" fill="rgb(209,209,209)"/><path d="M977.3 98.5L976.4 97.5L977.2 96.2L979.8 96.8L979.9 97.9Z" fill="rgb(180,180,180)"/><path d="M1044.8 121.6L1043.4 120.3L1043.7 119.6L1045.8 119.7L1045.7 120.8Z" fill="rgb(211,211,211)"/><path d="M1108.4 108.4L1105.0 109.3L1102.5 108.8L1104.9 106.1L1107.5 106.8Z" fill="rgb(150,150,150)"/><path d="M947.5 120.5L945.9 118.3L947.1 116.1L951.2 116.4L951.3 120.0Z" fill="rgb(180,180,180)"/><path d="M1016.2 106.4L1013.6 107.5L1011.0 106.7L1012.5 104.5L1014.1 104.2Z" fill="rgb(192,192,192)"/><path d="M1082.0 227.0L1081.3 228.4L1079.0 226.4L1079.8 225.1L1082.1 225.1Z" fill="rgb(160,160,160)"/><path d="M1078.2 224.3L1073.6 223.5L1074.7 221.8L1077.8 219.8L1079.8 222.8Z" fill="rgb(205,205,205)"/><path d="M1101.6 206.1L1104.0 203.4L1107.1 203.4L1107.7 205.2L1105.4 207.5Z" fill="rgb(173,173,173)"/><path d="M922.6 78.9L921.0 77.1L922.5 75.5L925.1 75.3L924.8 78.4Z" fill="rgb(170,170,170)"/><path d="M902.7 241.8L900.2 241.1L898.8 238.3L901.0 237.9L903.9 239.0Z" fill="rgb(187,187,187)"/><path d="M891.6 219.5L888.9 219.0L887.7 217.6L890.3 216.6L892.4 217.7Z" fill="rgb(195,195,195)"/><path d="M932.9 98.9L932.4 97.1L934.6 96.3L935.9 97.1L935.6 99.0Z" fill="rgb(161,161,161)"/><path d="M1092.0 124.0L1088.5 124.9L1086.8 123.1L1088.2 121.7L1091.8 122.1Z" fill="rgb(193,193,193)"/><path d="M1067.2 150.8L1065.5 151.2L1064.4 149.9L1065.1 149.1L1066.5 149.2Z" fill="rgb(208,208,208)"/><path d="M966.8 204.4L966.4 203.1L966.5 201.4L969.9 201.8L969.2 203.2Z" fill="rgb(209,209,209)"/><path d="M1091.2 118.9L1089.0 120.0L1087.4 119.5L1088.3 117.6L1091.8 117.7Z" fill="rgb(203,203,203)"/><path d="M1015.5 200.0L1015.3 198.0L1017.1 197.2L1018.9 197.9L1019.5 200.1Z" fill="rgb(197,197,197)"/><path d="M1010.1 245.9L1007.2 247.5L1006.3 246.5L1005.9 244.4L1007.9 244.6Z" fill="rgb(166,166,166)"/><path d="M1065.2 101.7L1061.6 102.1L1060.3 100.2L1061.9 99.1L1063.7 99.4Z" fill="rgb(172,172,172)"/><path d="M911.0 225.1L910.2 225.7L908.5 225.9L908.3 224.0L910.4 223.6Z" fill="rgb(215,215,215)"/><path d="M1016.8 147.6L1018.1 145.9L1020.0 145.9L1020.1 147.2L1018.4 148.3Z" fill="rgb(212,212,212)"/><path d="M1046.0 145.9L1044.3 146.1L1044.2 145.0L1045.4 144.6L1046.5 145.2Z" fill="rgb(164,164,164)"/><path d="M1075.5 186.0L1074.4 184.0L1077.0 182.5L1079.2 183.5L1078.0 186.0Z" fill="rgb(169,169,169)"/><path d="M1038.9 151.6L1038.5 150.3L1040.1 150.3L1040.7 151.3L1040.0 151.9Z" fill="rgb(204,204,204)"/><path d="M1079.9 199.0L1078.2 197.8L1079.7 196.7L1081.9 197.0L1081.8 198.6Z" fill="rgb(204,204,204)"/><path d="M1074.3 246.4L1071.9 244.5L1074.3 243.8L1077.3 244.4L1076.7 245.9Z" fill="rgb(168,168,168)"/><path d="M1011.4 137.8L1011.1 136.9L1012.5 136.5L1013.8 137.0L1012.8 138.5Z" fill="rgb(156,156,156)"/><path d="M919.4 204.8L918.8 203.6L919.7 202.8L921.0 203.3L921.1 204.5Z" fill="rgb(212,212,212)"/><path d="M1003.9 120.7L1002.6 120.6L1002.3 119.6L1003.8 119.2L1004.8 120.1Z" fill="rgb(198,198,198)"/><path d="M1002.9 105.7L1003.7 104.1L1005.3 102.7L1007.6 105.9L1005.4 107.5Z" fill="rgb(203,203,203)"/><path d="M951.4 139.1L949.6 139.3L948.7 138.3L949.4 137.0L951.5 136.7Z" fill="rgb(193,193,193)"/><path d="M935.1 209.4L933.7 208.5L934.2 207.5L935.7 208.0L935.9 208.6Z" fill="rgb(169,169,169)"/><path d="M1054.5 185.3L1055.3 184.1L1057.6 184.3L1057.9 186.0L1055.9 186.7Z" fill="rgb(190,190,190)"/><path d="M917.6 76.3L917.3 74.8L918.6 73.7L920.6 74.0L921.1 76.4Z" fill="rgb(161,161,161)"/><path d="M1022.0 159.0L1020.5 158.0L1022.8 156.1L1025.3 156.3L1024.9 158.5Z" fill="rgb(193,193,193)"/><path d="M1109.1 78.7L1105.4 80.3L1103.0 78.5L1104.4 75.9L1108.6 76.0Z" fill="rgb(192,192,192)"/><path d="M901.9 82.4L896.4 80.8L897.5 79.1L901.4 76.8L903.6 79.3Z" fill="rgb(200,200,200)"/><path d="M915.0 196.1L912.9 195.9L912.7 194.7L914.2 194.3L915.2 195.1Z" fill="rgb(196,196,196)"/><path d="M889.5 120.9L888.0 120.5L887.3 119.6L889.3 118.9L890.7 120.0Z" fill="rgb(193,193,193)"/><path d="M1084.1 180.2L1079.3 179.4L1079.7 177.5L1082.8 176.0L1084.8 177.8Z" fill="rgb(186,186,186)"/><path d="M1054.3 210.7L1052.4 209.7L1053.1 208.1L1055.6 208.8L1055.7 209.7Z" fill="rgb(203,203,203)"/><path d="M1105.4 216.2L1101.4 217.5L1099.3 216.6L1101.7 213.9L1104.3 214.5Z" fill="rgb(215,215,215)"/><path d="M916.2 144.7L916.9 143.6L918.6 143.2L919.4 144.1L918.6 145.0Z" fill="rgb(192,192,192)"/><path d="M1060.8 88.3L1062.3 86.6L1064.7 86.6L1064.6 88.0L1063.5 89.6Z" fill="rgb(204,204,204)"/><path d="M912.1 116.5L909.8 117.1L908.1 116.2L908.9 114.9L911.5 115.0Z" fill="rgb(187,187,187)"/><path d="M981.5 178.9L980.1 177.7L981.4 176.4L983.0 177.0L983.5 177.9Z" fill="rgb(155,155,155)"/><path d="M1027.1 247.2L1026.0 246.0L1027.8 245.0L1029.5 246.4L1029.0 247.5Z" fill="rgb(172,172,172)"/><path d="M1072.5 192.5L1067.5 191.5L1069.5 189.6L1074.7 188.4L1074.8 191.0Z" fill="rgb(200,200,200)"/><path d="M1109.2 164.3L1107.5 165.1L1106.0 164.6L1106.4 163.0L1108.2 162.9Z" fill="rgb(199,199,199)"/><path d="M960.4 99.5L957.3 97.5L958.4 95.5L963.9 95.4L963.7 97.5Z" fill="rgb(187,187,187)"/><path d="M956.0 176.1L952.9 177.3L951.7 175.4L953.0 173.4L955.4 173.7Z" fill="rgb(201,201,201)"/><path d="M970.9 213.3L965.8 214.9L964.1 213.3L965.7 210.5L968.8 211.8Z" fill="rgb(169,169,169)"/><path d="M1038.4 241.3L1036.4 241.0L1035.7 239.3L1038.0 239.3L1040.2 240.6Z" fill="rgb(165,165,165)"/><path d="M945.9 112.2L942.7 112.0L942.2 111.1L942.7 109.2L946.7 110.4Z" fill="rgb(190,190,190)"/><path d="M1034.0 197.7L1031.7 195.5L1033.9 193.2L1036.7 194.3L1037.3 195.8Z" fill="rgb(213,213,213)"/><path d="M890.6 167.2L889.6 166.3L889.3 165.0L891.8 165.0L892.9 166.4Z" fill="rgb(166,166,166)"/><path d="M1104.0 184.0L1101.4 183.1L1102.0 181.2L1104.5 181.1L1106.4 183.6Z" fill="rgb(169,169,169)"/><path d="M955.4 94.5L952.8 94.1L948.9 92.8L952.1 90.0L955.7 91.6Z" fill="rgb(171,171,171)"/><path d="M1017.1 172.2L1016.6 170.7L1018.2 170.4L1019.5 170.3L1019.3 172.1Z" fill="rgb(203,203,203)"/><path d="M1023.4 69.8L1020.1 68.6L1022.3 65.7L1026.1 66.5L1027.2 68.6Z" fill="rgb(193,193,193)"/><path d="M1022.3 122.9L1019.1 123.1L1019.1 120.1L1021.3 118.9L1024.0 120.2Z" fill="rgb(156,156,156)"/><path d="M950.2 136.7L946.9 135.2L948.8 133.1L950.9 131.6L953.8 134.3Z" fill="rgb(213,213,213)"/><path d="M891.1 241.7L888.4 240.8L888.0 237.8L891.6 238.3L892.3 239.5Z" fill="rgb(167,167,167)"/><path d="M1084.7 200.3L1082.1 200.2L1081.3 198.3L1084.3 197.4L1086.2 199.1Z" fill="rgb(165,165,165)"/><path d="M912.1 81.4L912.8 79.4L914.5 78.9L915.4 79.9L914.7 81.4Z" fill="rgb(208,208,208)"/><path d="M919.1 230.7L916.9 230.6L917.1 229.6L919.0 228.8L919.9 229.8Z" fill="rgb(152,152,152)"/><path d="M966.7 190.4L966.3 188.6L966.7 186.6L970.3 187.7L970.1 189.8Z" fill="rgb(211,211,211)"/><path d="M920.9 182.0L920.6 179.5L924.1 178.8L926.0 180.0L924.3 181.7Z" fill="rgb(214,214,214)"/><path d="M1056.8 236.7L1055.2 233.7L1059.6 232.8L1062.7 235.2L1061.2 237.2Z" fill="rgb(183,183,183)"/><path d="M1023.8 99.2L1020.8 99.0L1020.6 97.7L1022.2 97.0L1024.2 97.6Z" fill="rgb(185,185,185)"/><path d="M950.1 172.2L946.7 170.8L947.6 169.1L950.7 168.2L952.1 169.6Z" fill="rgb(211,211,211)"/><path d="M931.7 217.8L932.2 216.3L934.3 216.4L935.1 218.3L933.5 218.9Z" fill="rgb(210,210,210)"/><path d="M906.6 206.8L907.1 205.8L908.7 206.2L908.5 207.4L907.6 207.6Z" fill="rgb(161,161,161)"/><path d="M1028.2 107.4L1027.5 105.1L1031.2 102.5L1035.0 105.8L1034.1 108.3Z" fill="rgb(187,187,187)"/><path d="M1080.9 65.2L1079.2 63.8L1081.2 61.3L1084.1 62.3L1085.2 64.9Z" fill="rgb(192,192,192)"/><path d="M920.9 149.4L919.5 147.9L921.3 146.8L923.4 148.1L922.6 149.3Z" fill="rgb(201,201,201)"/><path d="M1035.4 97.5L1034.2 97.2L1034.5 96.1L1036.6 95.7L1037.0 96.8Z" fill="rgb(180,180,180)"/><path d="M901.0 85.2L898.0 85.7L896.9 84.2L898.7 83.0L900.5 82.8Z" fill="rgb(211,211,211)"/><path d="M920.4 205.0L916.6 203.8L917.0 201.0L920.5 200.6L922.3 202.8Z" fill="rgb(196,196,196)"/><path d="M901.6 168.3L901.8 167.6L903.3 167.3L904.0 168.3L903.0 169.2Z" fill="rgb(207,207,207)"/><path d="M1067.6 149.3L1064.8 148.0L1064.8 146.6L1067.1 145.6L1069.6 146.9Z" fill="rgb(158,158,158)"/><path d="M1005.7 73.4L1006.2 72.7L1008.0 72.7L1007.5 74.0L1006.2 74.1Z" fill="rgb(198,198,198)"/><path d="M966.0 192.1L965.8 188.4L970.7 188.7L973.2 191.8L969.2 193.6Z" fill="rgb(209,209,209)"/><path d="M1037.9 166.0L1035.2 165.6L1034.2 162.7L1036.4 162.2L1040.2 164.4Z" fill="rgb(152,152,152)"/><path d="M942.3 75.0L940.7 76.7L937.2 75.5L936.2 73.3L939.6 72.7Z" fill="rgb(187,187,187)"/><path d="M939.2 236.2L936.4 235.7L934.6 233.9L937.4 232.6L940.9 233.0Z" fill="rgb(172,172,172)"/><path d="M1028.4 142.4L1026.4 144.0L1023.8 142.9L1024.4 141.5L1026.8 141.1Z" fill="rgb(178,178,178)"/><path d="M949.6 195.5L951.7 193.9L953.6 193.9L955.4 196.0L952.2 196.2Z" fill="rgb(174,174,174)"/><path d="M895.4 134.3L893.4 132.5L895.9 131.0L898.9 132.2L897.8 134.0Z" fill="rgb(174,174,174)"/><path d="M1098.8 84.3L1100.3 82.9L1102.6 82.8L1103.9 84.7L1101.6 85.6Z" fill="rgb(213,213,213)"/><path d="M989.4 216.0L987.0 214.0L988.1 211.4L990.8 211.0L993.1 214.1Z" fill="rgb(203,203,203)"/><path d="M951.7 100.0L949.9 99.6L949.6 98.3L952.3 97.8L952.7 98.8Z" fill="rgb(195,195,195)"/><path d="M925.3 199.0L921.8 198.9L921.4 197.2L922.8 196.3L924.1 196.4Z" fill="rgb(179,179,179)"/><path d="M900.4 91.6L898.6 90.6L899.4 89.5L900.9 89.3L901.9 90.4Z" fill="rgb(185,185,185)"/><path d="M1002.5 117.0L1004.3 114.7L1005.8 114.4L1008.4 115.6L1005.7 117.6Z" fill="rgb(200,200,200)"/><path d="M901.9 243.6L899.9 242.3L901.8 240.4L904.2 241.7L905.0 243.1Z" fill="rgb(157,157,157)"/><path d="M1028.3 195.2L1026.7 194.4L1027.3 193.5L1028.6 193.4L1029.7 194.7Z" fill="rgb(210,210,210)"/><path d="M942.4 235.7L942.7 233.6L948.5 233.1L949.6 237.0L945.3 238.0Z" fill="rgb(159,159,159)"/></g>
<path d="M1018 40C1036 66 1054 88 1074 110C1092 130 1108 150 1112 176C1114 200 1100 222 1088 240C1082 250 1078 258 1072 268L1220 280L1220 30Z" fill="#000" filter="url(#rag)"/>
<path d="M1012 66C1036 82 1058 100 1078 126" stroke="#000" stroke-width="16" stroke-opacity="0.6" fill="none" filter="url(#rag)"/><path d="M1008 50C1020 84 1034 110 1046 134C1058 156 1080 166 1084 184C1088 204 1070 226 1056 270L1220 280L1220 30Z" fill="#000" fill-opacity="0.55" filter="url(#rag2)"/>
<path d="M1149 128l3 1l1 22l-3 6l-3 -8z" fill="#ddd" filter="url(#bl1)"/>
<path d="M1066 122l6 6l-1.5 1.5l-6 -6zM1091 172l3 1l-2 8l-3 -1zM1108 146l4 2l-1 2l-4 -2z" fill="#e8e8e8"/>
<path d="M1035 178l22 2l-4 7l-14 -1z" fill="#000" fill-opacity="0.8" filter="url(#bl1)"/>
</g>
<path d="M881.8 138.5C882.6 136.8 884.1 133.6 886.4 132.1C888.6 130.7 892.5 132.4 895.2 129.7C897.8 126.9 899.3 119.7 902.2 115.6C905.1 111.5 908.1 108.9 912.7 105.0C917.4 101.2 926.5 96.1 930.3 92.7C934.1 89.4 933.3 86.9 935.6 85.0C937.9 83.1 942.0 81.7 944.4 81.5C946.7 81.3 946.7 85.0 949.7 84.0C952.6 82.9 958.2 77.9 962.0 75.2C965.8 72.4 967.8 69.3 972.5 67.4C977.2 65.6 984.8 64.7 990.1 63.9C995.4 63.1 1000.1 62.6 1004.2 62.9C1008.3 63.1 1011.8 65.9 1014.7 65.3C1017.6 64.7 1019.4 59.9 1021.7 59.3C1024.1 58.8 1024.1 60.8 1028.8 61.8C1033.5 62.8 1042.8 63.8 1049.9 65.3C1056.9 66.8 1064.5 69.0 1071.0 70.9C1077.4 72.9 1082.7 74.8 1088.6 76.9C1094.4 79.1 1102.0 83.0 1106.1 84.0C1110.2 84.9 1109.9 81.4 1113.2 82.9C1116.4 84.4 1122.0 90.8 1125.5 92.7C1129.0 94.7 1131.6 92.4 1134.3 94.5C1136.9 96.6 1137.8 100.9 1141.3 105.0C1144.8 109.2 1151.3 114.4 1155.4 119.1C1159.5 123.8 1163.0 128.2 1165.9 133.2C1168.8 138.2 1172.1 144.0 1172.9 149.0C1173.8 154.0 1172.9 157.8 1171.2 163.1C1169.4 168.3 1164.7 176.5 1162.4 180.6C1160.0 184.7 1160.6 184.7 1157.1 187.7C1153.6 190.6 1146.3 194.7 1141.3 198.2C1136.3 201.7 1131.9 205.0 1127.2 208.8C1122.5 212.6 1117.9 217.3 1113.2 221.1C1108.5 224.9 1103.8 228.4 1099.1 231.6C1094.4 234.9 1089.7 238.3 1085.0 240.4C1080.3 242.6 1076.8 243.8 1071.0 244.6C1065.1 245.5 1055.7 245.2 1049.9 245.7C1044.0 246.2 1040.5 246.6 1035.8 247.5C1031.1 248.3 1026.4 250.7 1021.7 251.0C1017.1 251.3 1011.8 249.9 1007.7 249.2C1003.6 248.5 1000.1 247.0 997.1 246.8C994.2 246.5 993.0 248.2 990.1 247.5C987.2 246.7 983.1 243.1 979.5 242.2C976.0 241.3 972.5 243.1 969.0 242.2C965.5 241.3 962.3 238.5 958.5 236.9C954.6 235.3 950.0 234.2 946.1 232.7C942.3 231.2 939.1 230.0 935.6 228.1C932.1 226.2 928.3 223.7 925.0 221.1C921.8 218.4 918.9 215.2 916.3 212.3C913.6 209.4 911.9 206.1 909.2 203.5C906.6 200.9 903.1 199.7 900.4 196.5C897.8 193.2 894.6 188.6 893.4 184.2C892.2 179.8 894.0 175.4 893.4 170.1C892.8 164.8 891.8 157.2 889.9 152.5C888.0 147.8 883.1 144.3 881.8 142.0C880.5 139.6 881.0 140.1 881.8 138.5Z" fill="none" stroke="#0000ff" stroke-width="2.7" stroke-linejoin="round"/>
</g>
<g id="body-c"><g clip-path="url(#cc)">
<rect x="1190" y="20" width="288" height="280" fill="url(#ctop)"/>
<circle cx="1338" cy="647" r="533" fill="url(#cbase)" filter="url(#bl4)"/>
<ellipse cx="1400" cy="215" rx="90" ry="80" fill="url(#cwarm)"/>
<ellipse cx="1275" cy="255" rx="120" ry="70" fill="url(#cblue)"/>
<g filter="url(#bl2)"><path d="M1274.4 268.9l0.5 7.0" stroke="#8e94a6" stroke-width="2.3" stroke-opacity="0.22" stroke-linecap="round"/><path d="M1339.8 284.2l3.0 7.8" stroke="#e9ecf2" stroke-width="2.2" stroke-opacity="0.22" stroke-linecap="round"/><path d="M1315.7 281.1l-1.6 7.8" stroke="#e9ecf2" stroke-width="2.4" stroke-opacity="0.22" stroke-linecap="round"/><path d="M1259.0 284.9l-2.0 7.1" stroke="#e9ecf2" stroke-width="1.2" stroke-opacity="0.22" stroke-linecap="round"/><path d="M1402.4 247.8l-0.2 10.2" stroke="#e9ecf2" stroke-width="2.7" stroke-opacity="0.22" stroke-linecap="round"/><path d="M1360.0 282.9l1.4 9.7" stroke="#e9ecf2" stroke-width="2.9" stroke-opacity="0.22" stroke-linecap="round"/><path d="M1334.7 286.5l-2.2 5.1" stroke="#e9ecf2" stroke-width="1.9" stroke-opacity="0.22" stroke-linecap="round"/><path d="M1270.6 286.6l-0.5 7.5" stroke="#e9ecf2" stroke-width="2.3" stroke-opacity="0.22" stroke-linecap="round"/><path d="M1380.4 270.1l2.4 8.3" stroke="#e9ecf2" stroke-width="1.9" stroke-opacity="0.22" stroke-linecap="round"/><path d="M1353.4 285.0l1.2 10.9" stroke="#8e94a6" stroke-width="3.0" stroke-opacity="0.22" stroke-linecap="round"/><path d="M1356.4 259.7l1.3 8.3" stroke="#e9ecf2" stroke-width="2.2" stroke-opacity="0.22" stroke-linecap="round"/><path d="M1269.6 280.9l-0.1 8.6" stroke="#e9ecf2" stroke-width="1.7" stroke-opacity="0.22" stroke-linecap="round"/><path d="M1345.7 266.3l-2.9 6.8" stroke="#e9ecf2" stroke-width="1.3" stroke-opacity="0.22" stroke-linecap="round"/><path d="M1308.0 263.4l-0.7 5.0" stroke="#e9ecf2" stroke-width="2.3" stroke-opacity="0.22" stroke-linecap="round"/><path d="M1336.4 269.1l3.0 11.4" stroke="#e9ecf2" stroke-width="1.7" stroke-opacity="0.22" stroke-linecap="round"/><path d="M1287.1 249.2l2.8 8.8" stroke="#e9ecf2" stroke-width="1.3" stroke-opacity="0.22" stroke-linecap="round"/><path d="M1283.9 257.1l-1.1 9.5" stroke="#e9ecf2" stroke-width="3.0" stroke-opacity="0.22" stroke-linecap="round"/><path d="M1402.6 283.7l-0.7 7.0" stroke="#8e94a6" stroke-width="2.0" stroke-opacity="0.22" stroke-linecap="round"/><path d="M1386.3 274.6l-1.4 4.8" stroke="#8e94a6" stroke-width="3.0" stroke-opacity="0.22" stroke-linecap="round"/><path d="M1344.9 276.1l0.1 11.5" stroke="#e9ecf2" stroke-width="2.0" stroke-opacity="0.22" stroke-linecap="round"/><path d="M1329.6 246.5l-0.7 7.3" stroke="#e9ecf2" stroke-width="2.2" stroke-opacity="0.22" stroke-linecap="round"/><path d="M1336.9 251.6l1.1 9.1" stroke="#e9ecf2" stroke-width="1.8" stroke-opacity="0.22" stroke-linecap="round"/><path d="M1294.8 275.7l2.7 9.9" stroke="#e9ecf2" stroke-width="1.2" stroke-opacity="0.22" stroke-linecap="round"/><path d="M1235.8 261.5l-1.1 9.0" stroke="#8e94a6" stroke-width="1.7" stroke-opacity="0.22" stroke-linecap="round"/><path d="M1296.8 259.1l1.7 7.0" stroke="#e9ecf2" stroke-width="2.3" stroke-opacity="0.22" stroke-linecap="round"/><path d="M1250.7 280.1l-1.1 11.8" stroke="#e9ecf2" stroke-width="2.4" stroke-opacity="0.22" stroke-linecap="round"/><path d="M1271.6 279.8l0.9 5.9" stroke="#e9ecf2" stroke-width="1.5" stroke-opacity="0.22" stroke-linecap="round"/><path d="M1249.3 271.2l-0.4 11.6" stroke="#e9ecf2" stroke-width="2.4" stroke-opacity="0.22" stroke-linecap="round"/><path d="M1384.3 253.1l-0.3 6.7" stroke="#8e94a6" stroke-width="2.4" stroke-opacity="0.22" stroke-linecap="round"/><path d="M1272.1 251.1l-1.9 8.2" stroke="#8e94a6" stroke-width="1.5" stroke-opacity="0.22" stroke-linecap="round"/><path d="M1281.6 279.9l0.5 9.1" stroke="#e9ecf2" stroke-width="2.7" stroke-opacity="0.22" stroke-linecap="round"/><path d="M1307.0 267.8l-0.5 10.8" stroke="#8e94a6" stroke-width="2.0" stroke-opacity="0.22" stroke-linecap="round"/><path d="M1306.7 263.2l-0.1 11.4" stroke="#e9ecf2" stroke-width="1.5" stroke-opacity="0.22" stroke-linecap="round"/><path d="M1380.2 272.2l-1.7 8.1" stroke="#8e94a6" stroke-width="2.2" stroke-opacity="0.22" stroke-linecap="round"/><path d="M1364.7 281.1l0.3 9.3" stroke="#e9ecf2" stroke-width="2.1" stroke-opacity="0.22" stroke-linecap="round"/><path d="M1390.4 282.2l1.9 10.9" stroke="#e9ecf2" stroke-width="2.9" stroke-opacity="0.22" stroke-linecap="round"/><path d="M1240.0 284.0l0.5 9.5" stroke="#e9ecf2" stroke-width="2.9" stroke-opacity="0.22" stroke-linecap="round"/><path d="M1234.3 277.3l-2.9 5.4" stroke="#8e94a6" stroke-width="1.7" stroke-opacity="0.22" stroke-linecap="round"/><path d="M1327.6 248.2l-1.5 11.3" stroke="#e9ecf2" stroke-width="1.4" stroke-opacity="0.22" stroke-linecap="round"/><path d="M1385.4 266.0l-2.3 10.3" stroke="#e9ecf2" stroke-width="1.8" stroke-opacity="0.22" stroke-linecap="round"/><path d="M1390.0 251.0l1.9 5.9" stroke="#e9ecf2" stroke-width="1.7" stroke-opacity="0.22" stroke-linecap="round"/><path d="M1233.3 272.4l-1.5 10.9" stroke="#e9ecf2" stroke-width="1.3" stroke-opacity="0.22" stroke-linecap="round"/><path d="M1342.0 267.8l2.1 4.4" stroke="#e9ecf2" stroke-width="1.8" stroke-opacity="0.22" stroke-linecap="round"/><path d="M1370.0 247.9l2.1 4.4" stroke="#e9ecf2" stroke-width="2.1" stroke-opacity="0.22" stroke-linecap="round"/><path d="M1247.3 267.1l-0.7 6.5" stroke="#e9ecf2" stroke-width="1.8" stroke-opacity="0.22" stroke-linecap="round"/><path d="M1301.4 258.8l-2.3 6.1" stroke="#e9ecf2" stroke-width="3.0" stroke-opacity="0.22" stroke-linecap="round"/></g>
<ellipse cx="1342" cy="157" rx="140" ry="135" fill="url(#climb)"/>
<g filter="url(#bl2)"><ellipse cx="1242.1" cy="199.0" rx="3.4" ry="5" fill="#8c8f99" fill-opacity="0.4"/><ellipse cx="1237.1" cy="197.0" rx="3" ry="4" fill="#e6e3dc" fill-opacity="0.35"/><ellipse cx="1255.9" cy="199.0" rx="3.4" ry="5" fill="#8c8f99" fill-opacity="0.4"/><ellipse cx="1250.9" cy="197.0" rx="3" ry="4" fill="#e6e3dc" fill-opacity="0.35"/><ellipse cx="1288.0" cy="201.3" rx="3.4" ry="5" fill="#8c8f99" fill-opacity="0.4"/><ellipse cx="1283.0" cy="199.3" rx="3" ry="4" fill="#e6e3dc" fill-opacity="0.35"/><ellipse cx="1306.3" cy="199.9" rx="3.4" ry="5" fill="#8c8f99" fill-opacity="0.4"/><ellipse cx="1301.3" cy="197.9" rx="3" ry="4" fill="#e6e3dc" fill-opacity="0.35"/><ellipse cx="1338.4" cy="194.4" rx="3.4" ry="5" fill="#8c8f99" fill-opacity="0.4"/><ellipse cx="1333.4" cy="192.4" rx="3" ry="4" fill="#e6e3dc" fill-opacity="0.35"/><ellipse cx="1393.4" cy="185.2" rx="3.4" ry="5" fill="#8c8f99" fill-opacity="0.4"/><ellipse cx="1388.4" cy="183.2" rx="3" ry="4" fill="#e6e3dc" fill-opacity="0.35"/><ellipse cx="1221.5" cy="192.1" rx="3.4" ry="5" fill="#8c8f99" fill-opacity="0.4"/><ellipse cx="1216.5" cy="190.1" rx="3" ry="4" fill="#e6e3dc" fill-opacity="0.35"/></g>
</g>
<path d="M1208.4 147.6C1208.8 140.7 1208.4 132.3 1209.8 124.6C1211.2 117.0 1213.2 109.3 1216.7 101.7C1220.1 94.1 1225.1 85.8 1230.4 78.8C1235.8 71.7 1241.9 65.2 1248.8 59.5C1255.7 53.8 1264.1 48.4 1271.7 44.4C1279.3 40.3 1287.0 37.5 1294.6 35.2C1302.3 32.9 1310.3 31.6 1317.6 30.6C1324.8 29.6 1330.5 29.1 1338.2 29.3C1345.8 29.4 1355.4 30.0 1363.4 31.5C1371.4 33.1 1378.7 35.3 1386.3 38.4C1394.0 41.6 1401.6 45.2 1409.3 50.3C1416.9 55.5 1425.3 62.6 1432.2 69.6C1439.1 76.6 1445.6 84.5 1450.5 92.5C1455.5 100.6 1458.9 109.3 1462.0 117.7C1465.0 126.2 1467.3 135.3 1468.9 143.0C1470.4 150.6 1471.2 156.3 1471.2 163.6C1471.2 170.9 1470.4 178.9 1468.9 186.5C1467.3 194.2 1465.0 201.4 1462.0 209.4C1458.9 217.5 1455.1 226.6 1450.5 234.7C1445.9 242.7 1437.9 253.2 1434.5 257.6C1431.0 262.0 1432.6 259.6 1429.9 261.3C1427.2 262.9 1422.2 265.6 1418.4 267.7C1414.6 269.7 1410.0 271.9 1407.0 273.6C1403.9 275.4 1403.5 277.1 1400.1 278.2C1396.6 279.4 1390.9 279.2 1386.3 280.5C1381.7 281.8 1377.2 284.6 1372.6 286.0C1368.0 287.4 1364.2 288.2 1358.8 288.8C1353.5 289.4 1345.8 289.9 1340.5 289.7C1335.1 289.5 1331.3 287.8 1326.7 287.4C1322.1 287.0 1317.6 288.0 1313.0 287.4C1308.4 286.8 1303.4 284.7 1299.2 283.7C1295.0 282.7 1291.6 282.9 1287.7 281.4C1283.9 280.0 1280.1 276.9 1276.3 275.0C1272.5 273.2 1268.6 273.0 1264.8 270.4C1261.0 267.9 1257.2 263.6 1253.4 259.9C1249.5 256.2 1245.7 252.6 1241.9 248.4C1238.1 244.2 1233.5 239.6 1230.4 234.7C1227.4 229.7 1225.9 223.6 1223.6 218.6C1221.3 213.7 1219.0 208.7 1216.7 204.9C1214.4 201.0 1212.5 198.2 1209.8 195.7C1207.1 193.2 1201.4 192.8 1200.6 189.7C1199.9 186.7 1204.1 181.3 1205.2 177.4C1206.4 173.4 1207.0 170.9 1207.5 165.9C1208.0 160.9 1208.0 154.4 1208.4 147.6Z" fill="none" stroke="#0000ff" stroke-width="3" stroke-linejoin="round"/>
</g>
<g id="body-d">
<g filter="url(#bl05)"><path d="M1158.4 450.0C1158.3 454.0 1158.2 458.0 1157.3 461.9C1156.4 465.8 1154.8 469.6 1153.1 473.3C1151.4 476.9 1149.7 480.6 1147.1 483.8C1144.5 487.0 1140.6 489.7 1137.7 492.5C1134.8 495.3 1133.2 498.5 1129.7 500.7C1126.3 502.9 1120.2 503.4 1117.0 505.4C1113.8 507.4 1112.6 510.3 1110.5 512.7C1108.3 515.0 1106.6 517.8 1104.1 519.7C1101.5 521.6 1097.7 522.4 1095.0 524.0C1092.3 525.6 1090.6 528.4 1087.7 529.5C1084.8 530.6 1080.4 529.7 1077.4 530.6C1074.5 531.5 1072.7 533.9 1070.0 534.9C1067.3 535.9 1064.1 535.7 1061.3 536.4C1058.6 537.2 1056.2 538.6 1053.5 539.4C1050.9 540.1 1048.1 540.9 1045.4 540.9C1042.6 541.0 1039.6 539.8 1036.8 539.9C1034.1 540.0 1031.7 541.2 1029.0 541.7C1026.4 542.1 1023.7 542.0 1021.0 542.7C1018.3 543.3 1015.4 545.3 1012.6 545.7C1009.8 546.0 1007.0 545.5 1004.3 544.8C1001.6 544.2 999.3 541.9 996.4 541.7C993.6 541.4 989.9 543.6 987.1 543.1C984.3 542.7 982.4 539.6 979.6 538.9C976.7 538.1 972.8 539.4 969.8 538.6C966.9 537.8 964.8 535.5 962.0 534.2C959.3 532.9 956.8 531.3 953.4 530.6C949.9 529.8 944.5 531.0 941.3 529.7C938.2 528.3 937.1 524.7 934.5 522.6C931.8 520.5 928.9 518.7 925.4 516.9C921.8 515.2 916.5 514.4 913.1 512.3C909.8 510.1 907.4 507.0 905.4 503.9C903.4 500.8 903.5 496.8 901.1 493.6C898.7 490.5 893.1 488.2 891.0 484.8C888.8 481.5 889.4 477.2 888.3 473.4C887.2 469.6 884.6 465.9 884.2 462.0C883.7 458.1 886.0 454.0 885.6 450.0C885.2 446.0 881.6 441.8 881.8 437.8C882.0 433.9 885.2 430.1 886.7 426.3C888.2 422.5 888.8 418.6 890.7 415.1C892.6 411.6 895.2 408.2 898.3 405.4C901.5 402.5 906.4 400.6 909.8 398.1C913.2 395.7 915.4 393.0 918.5 390.8C921.6 388.6 925.1 386.9 928.2 385.0C931.4 383.2 934.2 381.3 937.2 379.7C940.2 378.1 943.4 376.8 946.2 375.2C949.0 373.6 951.4 371.8 954.0 370.2C956.6 368.5 958.8 366.3 961.8 365.4C964.7 364.5 969.0 365.8 971.8 364.8C974.7 363.9 976.3 360.8 979.0 359.9C981.7 359.0 985.2 359.8 988.1 359.6C991.0 359.4 993.8 359.3 996.5 358.7C999.3 358.1 1001.7 356.4 1004.4 356.1C1007.2 355.8 1010.1 356.8 1012.9 357.2C1015.6 357.5 1018.3 358.0 1021.0 358.2C1023.7 358.4 1026.3 358.2 1029.0 358.3C1031.7 358.4 1034.5 357.9 1037.1 358.7C1039.7 359.5 1041.6 362.5 1044.3 362.9C1047.0 363.4 1050.7 360.8 1053.2 361.6C1055.7 362.3 1056.9 366.5 1059.5 367.5C1062.1 368.4 1065.8 366.9 1068.8 367.2C1071.8 367.5 1074.9 368.2 1077.4 369.5C1079.9 370.8 1080.9 374.1 1083.8 375.1C1086.8 376.1 1092.0 374.8 1095.2 375.8C1098.5 376.8 1100.2 379.4 1103.3 381.0C1106.3 382.6 1110.6 383.3 1113.5 385.2C1116.3 387.2 1117.7 390.3 1120.3 392.7C1122.9 395.1 1126.2 397.1 1129.1 399.6C1132.0 402.1 1134.5 404.8 1137.8 407.5C1141.2 410.1 1147.1 412.4 1149.2 415.6C1151.4 418.9 1149.4 423.4 1150.8 427.1C1152.3 430.8 1156.7 434.2 1157.9 438.0C1159.2 441.8 1158.5 446.0 1158.4 450.0Z" fill="url(#dsh)" filter="url(#lump)"/></g>
<g fill="#e4e4e4" filter="url(#bl1)"><ellipse cx="1006.4" cy="376.3" rx="9.9" ry="4.9" transform="rotate(0 1006.4 376.3)"/><ellipse cx="1020.8" cy="370.3" rx="6.4" ry="4.2" transform="rotate(0 1020.8 370.3)"/><ellipse cx="1001.3" cy="399.9" rx="4.9" ry="4.9" transform="rotate(0 1001.3 399.9)"/><ellipse cx="1051.8" cy="403.3" rx="5.7" ry="5.7" transform="rotate(0 1051.8 403.3)"/><ellipse cx="923.9" cy="402.2" rx="3.5" ry="2.8" transform="rotate(0 923.9 402.2)"/><ellipse cx="934.0" cy="403.9" rx="3.5" ry="2.8" transform="rotate(0 934.0 403.9)"/><ellipse cx="991.9" cy="434.9" rx="3.5" ry="3.5" transform="rotate(0 991.9 434.9)"/><ellipse cx="919.9" cy="464.5" rx="4.2" ry="4.2" transform="rotate(0 919.9 464.5)"/><ellipse cx="977.1" cy="463.8" rx="5.3" ry="5.3" transform="rotate(0 977.1 463.8)"/><ellipse cx="1005.4" cy="456.1" rx="4.9" ry="3.5" transform="rotate(30 1005.4 456.1)"/><ellipse cx="1033.3" cy="461.8" rx="4.9" ry="4.6" transform="rotate(0 1033.3 461.8)"/><ellipse cx="1016.5" cy="481.3" rx="6.4" ry="6.4" transform="rotate(0 1016.5 481.3)"/><ellipse cx="1063.6" cy="449.4" rx="2.8" ry="2.8" transform="rotate(0 1063.6 449.4)"/><ellipse cx="1138.6" cy="438.6" rx="4.6" ry="7.8" transform="rotate(10 1138.6 438.6)"/><ellipse cx="1129.2" cy="447.7" rx="2.8" ry="2.8" transform="rotate(0 1129.2 447.7)"/><ellipse cx="1095.5" cy="492.1" rx="8.5" ry="5.3" transform="rotate(-30 1095.5 492.1)"/><ellipse cx="998.0" cy="523.4" rx="9.9" ry="5.7" transform="rotate(0 998.0 523.4)"/><ellipse cx="1023.2" cy="518.3" rx="6.4" ry="3.5" transform="rotate(0 1023.2 518.3)"/><ellipse cx="939.1" cy="518.3" rx="3.5" ry="3.5" transform="rotate(0 939.1 518.3)"/><ellipse cx="1041.7" cy="496.5" rx="2.8" ry="2.8" transform="rotate(0 1041.7 496.5)"/><ellipse cx="1008.0" cy="494.8" rx="3.5" ry="2.1" transform="rotate(0 1008.0 494.8)"/><ellipse cx="930.7" cy="488.0" rx="2.8" ry="3.5" transform="rotate(0 930.7 488.0)"/><ellipse cx="1107.3" cy="407.3" rx="2.8" ry="2.8" transform="rotate(0 1107.3 407.3)"/><ellipse cx="1055.2" cy="526.7" rx="3.5" ry="2.1" transform="rotate(0 1055.2 526.7)"/><ellipse cx="1046.7" cy="532.5" rx="3.5" ry="2.1" transform="rotate(0 1046.7 532.5)"/><ellipse cx="967.7" cy="368.6" rx="4.9" ry="2.1" transform="rotate(-20 967.7 368.6)"/><ellipse cx="1027.6" cy="389.8" rx="2.8" ry="2.1" transform="rotate(0 1027.6 389.8)"/><ellipse cx="999.6" cy="420.8" rx="3.5" ry="2.8" transform="rotate(0 999.6 420.8)"/><ellipse cx="1014.8" cy="424.1" rx="2.1" ry="2.1" transform="rotate(0 1014.8 424.1)"/><ellipse cx="1035.0" cy="440.9" rx="2.8" ry="2.8" transform="rotate(0 1035.0 440.9)"/><ellipse cx="1120.8" cy="424.1" rx="2.8" ry="2.8" transform="rotate(0 1120.8 424.1)"/><ellipse cx="1146.0" cy="449.4" rx="1.8" ry="1.8" transform="rotate(0 1146.0 449.4)"/><ellipse cx="1082.1" cy="504.9" rx="2.1" ry="2.1" transform="rotate(0 1082.1 504.9)"/><ellipse cx="1024.9" cy="528.4" rx="4.2" ry="2.1" transform="rotate(0 1024.9 528.4)"/><ellipse cx="900.4" cy="440.9" rx="2.1" ry="2.8" transform="rotate(0 900.4 440.9)"/><ellipse cx="910.5" cy="481.3" rx="2.5" ry="2.5" transform="rotate(0 910.5 481.3)"/><ellipse cx="960.9" cy="498.1" rx="2.5" ry="2.5" transform="rotate(0 960.9 498.1)"/><ellipse cx="1075.3" cy="424.1" rx="2.5" ry="2.5" transform="rotate(0 1075.3 424.1)"/><ellipse cx="1092.2" cy="440.9" rx="2.1" ry="2.1" transform="rotate(0 1092.2 440.9)"/><ellipse cx="1061.9" cy="481.3" rx="2.5" ry="2.1" transform="rotate(0 1061.9 481.3)"/><ellipse cx="1115.7" cy="467.9" rx="2.5" ry="2.5" transform="rotate(0 1115.7 467.9)"/></g>
<g filter="url(#bl1)"><circle cx="955.3" cy="436.2" r="8" fill="none" stroke="#d4d4d4" stroke-width="3.2" stroke-opacity="0.75"/><path d="M963.5 437A8.2 8.2 0 0 1 951 443.3" fill="none" stroke="#ededed" stroke-width="3.4" stroke-linecap="round"/><circle cx="955" cy="436" r="4.6" fill="#a8a8a8" fill-opacity="0.55"/><circle cx="953" cy="434.2" r="2.3" fill="#f4f4f4"/></g>
<path d="M877.5 435.9C877.8 433.9 878.1 430.1 880.2 428.2C882.3 426.2 887.5 426.8 890.3 424.1C893.1 421.5 894.2 416.0 897.0 412.3C899.8 408.7 902.9 405.9 907.1 402.2C911.3 398.6 918.9 393.6 922.2 390.5C925.6 387.4 925.1 385.5 927.3 383.7C929.5 381.9 933.5 380.0 935.7 379.7C937.9 379.4 937.9 383.1 940.8 382.1C943.6 381.0 948.6 376.5 952.5 373.6C956.5 370.8 959.8 367.2 964.3 365.2C968.8 363.3 974.4 362.7 979.4 361.9C984.5 361.0 990.4 360.0 994.6 360.2C998.8 360.4 1001.6 363.6 1004.7 362.9C1007.8 362.2 1010.6 356.9 1013.1 356.2C1015.6 355.4 1015.6 357.6 1019.8 358.5C1024.0 359.5 1031.9 360.4 1038.3 361.9C1044.8 363.4 1052.4 365.6 1058.5 367.6C1064.7 369.6 1069.7 371.5 1075.3 373.6C1081.0 375.8 1087.7 379.4 1092.2 380.4C1096.7 381.4 1098.6 378.3 1102.3 379.7C1105.9 381.1 1110.4 386.9 1114.0 388.8C1117.7 390.7 1121.6 389.2 1124.1 391.1C1126.7 393.1 1126.1 396.8 1129.2 400.6C1132.3 404.4 1138.4 409.3 1142.6 414.0C1146.8 418.8 1151.2 423.8 1154.4 429.2C1157.7 434.5 1161.3 440.9 1162.2 446.0C1163.0 451.0 1161.3 454.4 1159.5 459.4C1157.6 464.5 1153.3 472.3 1151.0 476.3C1148.8 480.2 1149.6 480.2 1146.0 483.0C1142.4 485.8 1133.9 489.7 1129.2 493.1C1124.4 496.5 1121.9 499.5 1117.4 503.2C1112.9 506.8 1107.0 511.3 1102.3 515.0C1097.5 518.6 1093.3 522.1 1088.8 525.1C1084.3 528.0 1079.8 530.7 1075.3 532.5C1070.9 534.3 1067.5 534.9 1061.9 535.8C1056.3 536.7 1047.3 537.1 1041.7 537.8C1036.1 538.6 1032.7 539.2 1028.2 540.2C1023.8 541.2 1019.3 543.4 1014.8 543.6C1010.3 543.7 1005.2 541.9 1001.3 541.2C997.4 540.5 994.3 539.2 991.2 539.2C988.1 539.1 985.6 541.5 982.8 540.9C980.0 540.2 977.8 536.2 974.4 535.2C971.0 534.1 966.3 535.3 962.6 534.5C959.0 533.6 956.2 531.7 952.5 530.1C948.9 528.5 944.4 526.7 940.8 525.1C937.1 523.4 934.0 522.0 930.7 520.0C927.3 518.1 923.6 515.5 920.6 513.3C917.5 511.0 914.7 509.2 912.2 506.6C909.6 503.9 907.9 500.3 905.4 497.5C902.9 494.7 899.5 492.7 897.0 489.7C894.5 486.8 891.7 483.6 890.3 479.6C888.9 475.7 889.3 471.2 888.6 466.2C887.9 461.1 887.9 453.7 886.2 449.4C884.6 445.0 880.0 442.5 878.5 440.3C877.0 438.0 877.2 437.9 877.5 435.9Z" fill="none" stroke="#0000ff" stroke-width="1.9" stroke-linejoin="round"/>
</g>
<g id="body-e">
<g filter="url(#bl05)"><path d="M1471.4 446.0C1471.8 449.8 1471.3 453.8 1470.8 457.6C1470.3 461.4 1468.3 464.9 1468.2 468.9C1468.2 472.9 1471.7 477.7 1470.7 481.4C1469.7 485.1 1463.9 487.4 1462.3 491.1C1460.8 494.7 1462.0 499.2 1461.4 503.3C1460.8 507.3 1460.9 512.1 1458.7 515.4C1456.5 518.7 1450.8 519.7 1448.3 522.9C1445.9 526.1 1446.0 531.0 1444.0 534.5C1442.0 538.0 1439.5 541.4 1436.3 543.8C1433.1 546.2 1428.2 546.7 1424.9 548.9C1421.6 551.2 1419.5 554.8 1416.6 557.5C1413.6 560.2 1410.8 563.3 1407.3 565.1C1403.8 567.0 1399.3 567.0 1395.6 568.5C1391.9 570.0 1388.9 573.2 1385.1 574.0C1381.3 574.9 1376.6 573.2 1372.7 573.6C1368.7 573.9 1365.3 575.7 1361.5 576.2C1357.7 576.7 1353.8 576.1 1349.9 576.7C1346.1 577.2 1342.4 578.7 1338.5 579.6C1334.6 580.4 1330.5 582.0 1326.6 581.8C1322.7 581.6 1319.0 579.1 1315.2 578.3C1311.3 577.6 1307.1 578.4 1303.3 577.3C1299.6 576.2 1296.5 573.0 1292.7 571.8C1289.0 570.6 1284.2 571.6 1280.8 569.8C1277.3 568.0 1275.3 563.3 1272.1 561.0C1268.9 558.7 1265.1 557.7 1261.5 555.9C1257.9 554.2 1254.0 552.9 1250.7 550.7C1247.4 548.5 1244.3 545.7 1241.8 542.7C1239.3 539.7 1237.4 535.9 1235.5 532.5C1233.5 529.0 1232.3 525.1 1230.2 521.9C1228.1 518.6 1225.0 516.0 1222.8 512.8C1220.7 509.5 1219.3 505.9 1217.5 502.4C1215.7 499.0 1214.3 495.4 1212.2 492.0C1210.0 488.6 1205.8 485.6 1204.8 481.8C1203.8 478.0 1206.8 473.3 1206.0 469.4C1205.3 465.4 1201.3 462.0 1200.3 458.1C1199.3 454.2 1199.1 449.9 1200.1 446.0C1201.1 442.1 1205.3 438.3 1206.2 434.4C1207.1 430.5 1205.5 426.5 1205.7 422.6C1205.9 418.7 1206.1 414.5 1207.3 410.9C1208.6 407.2 1212.1 404.2 1213.4 400.5C1214.7 396.7 1214.4 392.5 1215.1 388.5C1215.9 384.5 1215.5 379.5 1217.8 376.3C1220.0 373.1 1226.0 372.1 1228.6 369.1C1231.3 366.0 1230.9 360.8 1233.5 357.9C1236.1 355.0 1241.1 354.3 1244.1 351.6C1247.0 348.9 1248.5 344.8 1251.1 341.8C1253.6 338.8 1256.1 335.1 1259.6 333.3C1263.2 331.6 1268.3 332.2 1272.3 331.3C1276.2 330.3 1279.7 329.0 1283.3 327.7C1286.9 326.4 1290.4 325.1 1293.9 323.4C1297.4 321.8 1300.4 318.5 1304.1 317.8C1307.8 317.0 1312.3 319.0 1316.1 319.0C1320.0 319.0 1323.5 318.2 1327.3 317.5C1331.0 316.8 1334.7 315.5 1338.5 314.7C1342.3 313.9 1346.4 312.3 1350.2 312.8C1353.9 313.3 1357.5 316.3 1361.1 317.6C1364.8 318.8 1368.5 319.5 1372.2 320.3C1375.9 321.1 1380.1 320.8 1383.5 322.4C1386.9 324.0 1389.2 328.3 1392.6 330.0C1396.0 331.7 1400.7 330.8 1403.9 332.6C1407.2 334.5 1408.9 338.8 1412.1 340.9C1415.2 343.1 1419.2 343.9 1422.7 345.7C1426.1 347.5 1430.4 348.8 1432.7 351.8C1434.9 354.9 1434.1 360.8 1436.2 364.0C1438.4 367.2 1443.0 368.2 1445.7 370.9C1448.4 373.7 1450.7 376.9 1452.3 380.3C1453.8 383.8 1453.8 388.1 1455.2 391.6C1456.5 395.2 1458.2 398.4 1460.4 401.6C1462.7 404.9 1466.8 407.6 1468.6 411.1C1470.5 414.6 1471.7 418.6 1471.7 422.5C1471.6 426.4 1468.2 430.7 1468.2 434.7C1468.1 438.6 1470.9 442.2 1471.4 446.0Z" fill="url(#esh)" filter="url(#lump)"/></g>
<g fill="#e4e4e4" filter="url(#bl1)"><ellipse cx="1237.3" cy="404.5" rx="3.7" ry="4.6" transform="rotate(20 1237.3 404.5)"/><ellipse cx="1258.9" cy="408.7" rx="4.6" ry="6.0" transform="rotate(15 1258.9 408.7)"/><ellipse cx="1278.6" cy="373.4" rx="4.6" ry="3.2" transform="rotate(-20 1278.6 373.4)"/><ellipse cx="1293.7" cy="438.5" rx="5.5" ry="5.5" transform="rotate(0 1293.7 438.5)"/><ellipse cx="1260.7" cy="446.7" rx="3.2" ry="4.6" transform="rotate(10 1260.7 446.7)"/><ellipse cx="1251.1" cy="471.9" rx="4.1" ry="5.5" transform="rotate(10 1251.1 471.9)"/><ellipse cx="1319.8" cy="488.0" rx="6.0" ry="5.5" transform="rotate(0 1319.8 488.0)"/><ellipse cx="1379.4" cy="501.7" rx="5.5" ry="6.0" transform="rotate(20 1379.4 501.7)"/><ellipse cx="1248.8" cy="520.1" rx="5.5" ry="4.1" transform="rotate(-20 1248.8 520.1)"/><ellipse cx="1288.7" cy="516.4" rx="4.6" ry="3.7" transform="rotate(0 1288.7 516.4)"/><ellipse cx="1409.3" cy="428.4" rx="3.7" ry="3.7" transform="rotate(0 1409.3 428.4)"/><ellipse cx="1440.4" cy="432.0" rx="2.8" ry="5.5" transform="rotate(0 1440.4 432.0)"/><ellipse cx="1271.7" cy="529.3" rx="3.7" ry="2.8" transform="rotate(0 1271.7 529.3)"/><ellipse cx="1313.0" cy="437.6" rx="1.8" ry="1.8" transform="rotate(0 1313.0 437.6)"/><ellipse cx="1276.3" cy="446.7" rx="1.8" ry="1.8" transform="rotate(0 1276.3 446.7)"/><ellipse cx="1287.7" cy="455.9" rx="1.8" ry="1.8" transform="rotate(0 1287.7 455.9)"/><ellipse cx="1271.7" cy="462.8" rx="1.8" ry="1.8" transform="rotate(0 1271.7 462.8)"/><ellipse cx="1340.5" cy="462.8" rx="3.7" ry="3.7" transform="rotate(0 1340.5 462.8)"/><ellipse cx="1437.7" cy="458.2" rx="1.8" ry="3.7" transform="rotate(0 1437.7 458.2)"/><ellipse cx="1248.8" cy="538.4" rx="2.3" ry="2.3" transform="rotate(0 1248.8 538.4)"/><ellipse cx="1441.3" cy="520.1" rx="2.3" ry="2.3" transform="rotate(0 1441.3 520.1)"/><ellipse cx="1363.4" cy="359.6" rx="2.3" ry="1.8" transform="rotate(0 1363.4 359.6)"/><ellipse cx="1331.3" cy="405.5" rx="1.8" ry="1.8" transform="rotate(0 1331.3 405.5)"/><ellipse cx="1395.5" cy="391.7" rx="2.3" ry="2.3" transform="rotate(0 1395.5 391.7)"/><ellipse cx="1418.4" cy="483.4" rx="2.3" ry="2.3" transform="rotate(0 1418.4 483.4)"/><ellipse cx="1354.2" cy="529.3" rx="2.8" ry="2.3" transform="rotate(0 1354.2 529.3)"/><ellipse cx="1317.6" cy="547.6" rx="2.3" ry="1.8" transform="rotate(0 1317.6 547.6)"/><ellipse cx="1386.3" cy="543.0" rx="2.3" ry="1.8" transform="rotate(0 1386.3 543.0)"/><ellipse cx="1303.8" cy="391.7" rx="1.8" ry="1.8" transform="rotate(0 1303.8 391.7)"/><ellipse cx="1230.4" cy="437.6" rx="1.8" ry="2.8" transform="rotate(0 1230.4 437.6)"/></g>
<path d="M1207.4 435.3C1207.8 428.4 1207.4 420.0 1208.8 412.3C1210.2 404.7 1212.2 397.0 1215.7 389.4C1219.1 381.8 1224.1 373.5 1229.4 366.5C1234.8 359.4 1240.9 352.9 1247.8 347.2C1254.7 341.5 1263.1 336.1 1270.7 332.1C1278.3 328.0 1286.0 325.2 1293.6 322.9C1301.3 320.6 1309.3 319.3 1316.6 318.3C1323.8 317.3 1329.5 316.8 1337.2 317.0C1344.8 317.1 1354.4 317.7 1362.4 319.2C1370.4 320.8 1377.7 323.0 1385.3 326.1C1393.0 329.3 1400.6 332.9 1408.3 338.0C1415.9 343.2 1424.3 350.3 1431.2 357.3C1438.1 364.3 1444.6 372.2 1449.5 380.2C1454.5 388.3 1457.9 397.0 1461.0 405.4C1464.0 413.9 1466.3 423.0 1467.9 430.7C1469.4 438.3 1470.2 444.0 1470.2 451.3C1470.2 458.6 1469.4 466.6 1467.9 474.2C1466.3 481.9 1464.0 489.1 1461.0 497.1C1457.9 505.2 1454.1 514.3 1449.5 522.4C1444.9 530.4 1436.9 540.9 1433.5 545.3C1430.0 549.7 1431.6 547.3 1428.9 549.0C1426.2 550.6 1421.2 553.3 1417.4 555.4C1413.6 557.4 1409.0 559.6 1406.0 561.3C1402.9 563.1 1402.5 564.8 1399.1 565.9C1395.6 567.1 1389.9 566.9 1385.3 568.2C1380.7 569.5 1376.2 572.3 1371.6 573.7C1367.0 575.1 1363.2 575.9 1357.8 576.5C1352.5 577.1 1344.8 577.6 1339.5 577.4C1334.1 577.2 1330.3 575.5 1325.7 575.1C1321.1 574.7 1316.6 575.7 1312.0 575.1C1307.4 574.5 1302.4 572.4 1298.2 571.4C1294.0 570.4 1290.6 570.6 1286.7 569.1C1282.9 567.7 1279.1 564.6 1275.3 562.7C1271.5 560.9 1267.6 560.7 1263.8 558.1C1260.0 555.6 1256.2 551.3 1252.4 547.6C1248.5 543.9 1244.7 540.3 1240.9 536.1C1237.1 531.9 1232.5 527.3 1229.4 522.4C1226.4 517.4 1224.9 511.3 1222.6 506.3C1220.3 501.4 1218.0 496.4 1215.7 492.6C1213.4 488.7 1211.5 485.9 1208.8 483.4C1206.1 480.9 1200.4 480.5 1199.6 477.4C1198.9 474.4 1203.1 469.0 1204.2 465.1C1205.4 461.1 1206.0 458.6 1206.5 453.6C1207.0 448.6 1207.0 442.1 1207.4 435.3Z" fill="none" stroke="#0000ff" stroke-width="1.9" stroke-linejoin="round"/>
</g>
<text x="843.8" y="52.4" font-size="41.67" fill="#fff">b</text>
<text x="1194.0" y="52.4" font-size="41.67" fill="#fff">c</text>
<text x="843.8" y="345.2" font-size="41.67" fill="#fff">d</text>
<text x="1194.0" y="345.2" font-size="41.67" fill="#fff">e</text>
<text y="624.2" font-size="36.5" fill="#fff"><tspan x="961.45" letter-spacing="-0.5">270</tspan><tspan x="1028.5" font-size="24.5" dy="-15.2">o</tspan><tspan x="1053.5" dy="15.2">E</tspan></text>
<text y="624.2" font-size="36.5" fill="#fff"><tspan x="1301" letter-spacing="-1.2">90</tspan><tspan x="1345.5" font-size="24.5" dy="-15.2">o</tspan><tspan x="1370.4" dy="15.2">N</tspan></text>
</g>
</svg></body></html>
